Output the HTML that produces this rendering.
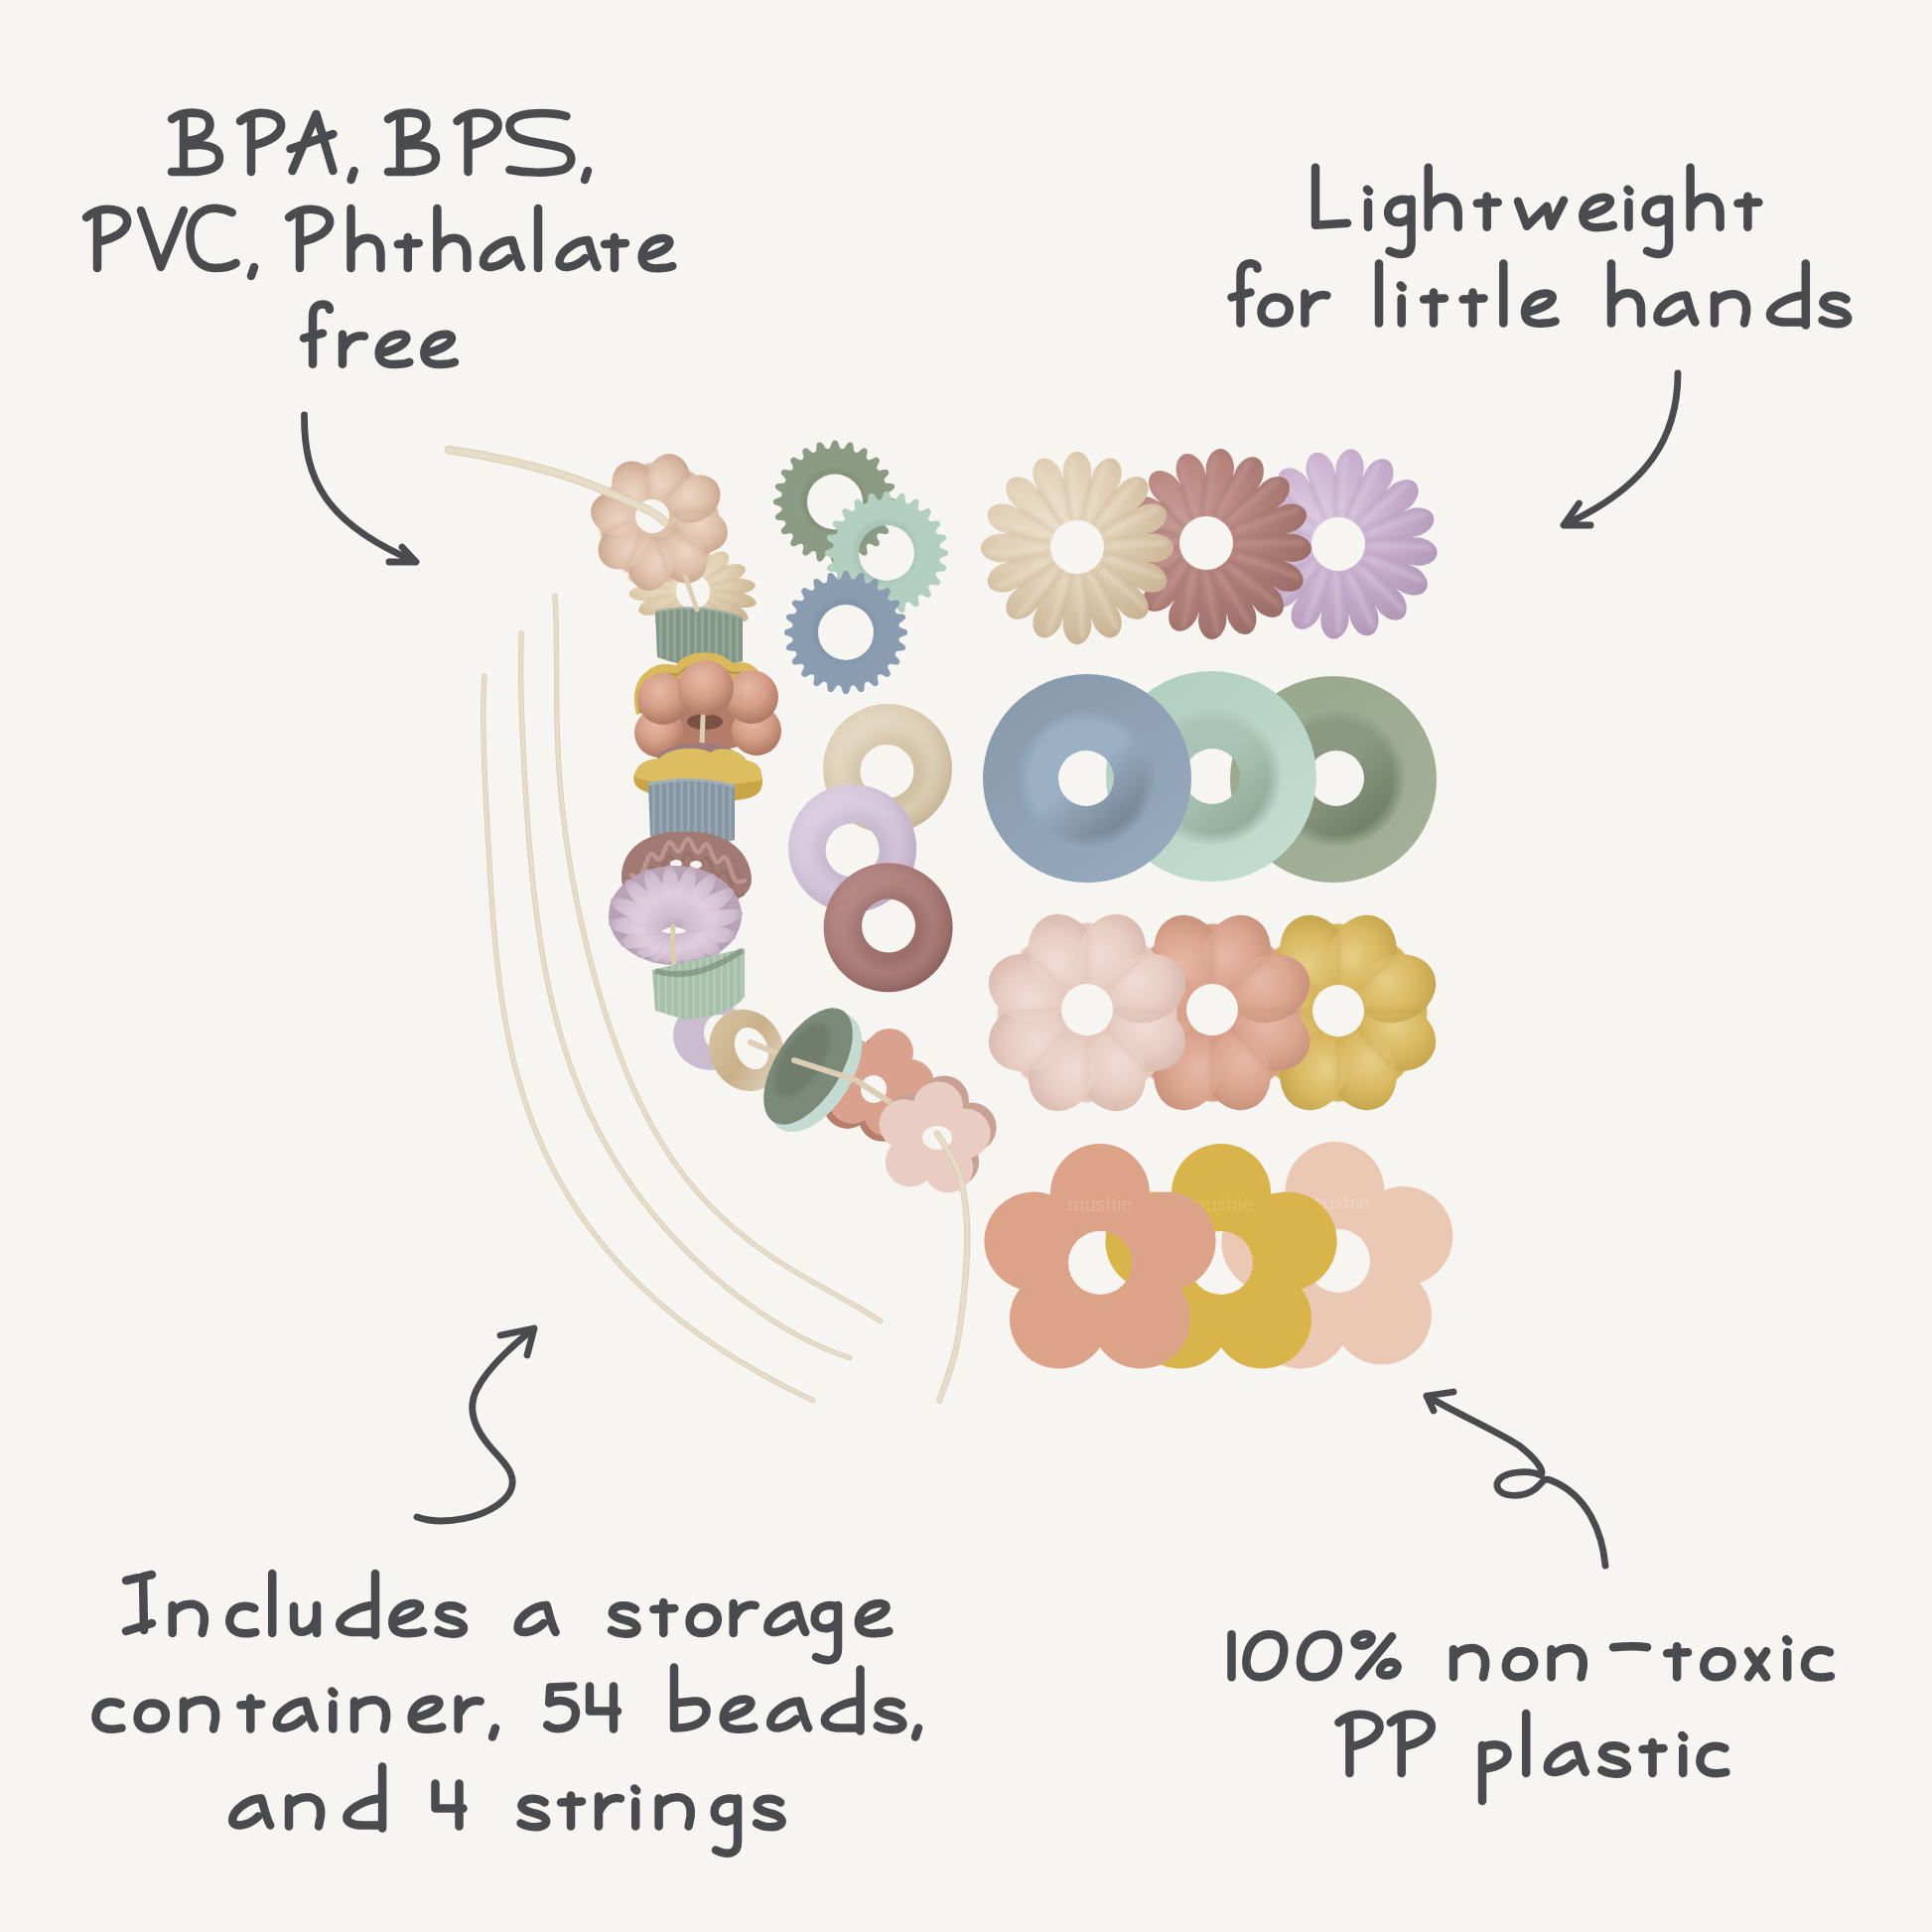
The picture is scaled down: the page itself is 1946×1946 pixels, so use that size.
<!DOCTYPE html>
<html><head><meta charset="utf-8"><title>Beads</title>
<style>html,body{margin:0;padding:0;background:#f6f5f1;width:1946px;height:1946px;overflow:hidden;font-family:"Liberation Sans",sans-serif}svg{display:block}</style>
</head><body>
<svg width="1946" height="1946" viewBox="0 0 1946 1946">
<defs><filter id="blur2" x="-20%" y="-20%" width="140%" height="140%"><feGaussianBlur stdDeviation="2"/></filter><filter id="blur4" x="-20%" y="-20%" width="140%" height="140%"><feGaussianBlur stdDeviation="4"/></filter><mask id="m1" maskUnits="userSpaceOnUse" x="0" y="0" width="1946" height="1946"><rect width="1946" height="1946" fill="white"/><ellipse cx="1348" cy="548" rx="27" ry="27" transform="rotate(0 1348 548)" fill="black"/></mask><radialGradient id="g1" gradientUnits="userSpaceOnUse" cx="1328.8" cy="524" r="124.8"><stop offset="0" stop-color="#dccbe2"/><stop offset="0.5" stop-color="#cbb3d1"/><stop offset="1" stop-color="#b299b8"/></radialGradient><mask id="m2" maskUnits="userSpaceOnUse" x="0" y="0" width="1946" height="1946"><rect width="1946" height="1946" fill="white"/><ellipse cx="1215" cy="547" rx="27" ry="27" transform="rotate(0 1215 547)" fill="black"/></mask><radialGradient id="g2" gradientUnits="userSpaceOnUse" cx="1195.8" cy="523" r="124.8"><stop offset="0" stop-color="#c89c97"/><stop offset="0.5" stop-color="#b8847e"/><stop offset="1" stop-color="#9c6f69"/></radialGradient><mask id="m3" maskUnits="userSpaceOnUse" x="0" y="0" width="1946" height="1946"><rect width="1946" height="1946" fill="white"/><ellipse cx="1085" cy="551" rx="27" ry="27" transform="rotate(0 1085 551)" fill="black"/></mask><radialGradient id="g3" gradientUnits="userSpaceOnUse" cx="1065.6" cy="526.8" r="126.1"><stop offset="0" stop-color="#ece0cc"/><stop offset="0.5" stop-color="#e0cfb5"/><stop offset="1" stop-color="#c9b393"/></radialGradient><mask id="m4" maskUnits="userSpaceOnUse" x="0" y="0" width="1946" height="1946"><rect width="1946" height="1946" fill="white"/><ellipse cx="1346" cy="784" rx="28" ry="28" transform="rotate(0 1346 784)" fill="black"/></mask><linearGradient id="g4" x1="0.2" y1="0.1" x2="0.8" y2="0.9"><stop offset="0" stop-color="#9aa88e"/><stop offset="1" stop-color="#a3b097"/></linearGradient><linearGradient id="g5" x1="0.2" y1="0.15" x2="0.8" y2="0.85"><stop offset="0" stop-color="#8a9880"/><stop offset="0.45" stop-color="#8a9880"/><stop offset="1" stop-color="#6f7d66"/></linearGradient><radialGradient id="soft1005" gradientUnits="userSpaceOnUse" cx="1346" cy="784" r="70"><stop offset="0" stop-color="white"/><stop offset="0.8" stop-color="white"/><stop offset="1" stop-color="black"/></radialGradient><mask id="softm1005" maskUnits="userSpaceOnUse" x="0" y="0" width="1946" height="1946"><circle cx="1346" cy="784" r="70" fill="url(#soft1005)"/></mask><mask id="m5" maskUnits="userSpaceOnUse" x="0" y="0" width="1946" height="1946"><rect width="1946" height="1946" fill="white"/><ellipse cx="1221" cy="782" rx="28" ry="28" transform="rotate(0 1221 782)" fill="black"/></mask><linearGradient id="g7" x1="0.2" y1="0.1" x2="0.8" y2="0.9"><stop offset="0" stop-color="#b3cfc2"/><stop offset="1" stop-color="#c2dcd0"/></linearGradient><linearGradient id="g8" x1="0.2" y1="0.15" x2="0.8" y2="0.85"><stop offset="0" stop-color="#a9c4b6"/><stop offset="0.45" stop-color="#a9c4b6"/><stop offset="1" stop-color="#91a998"/></linearGradient><radialGradient id="soft1008" gradientUnits="userSpaceOnUse" cx="1221" cy="782" r="70"><stop offset="0" stop-color="white"/><stop offset="0.8" stop-color="white"/><stop offset="1" stop-color="black"/></radialGradient><mask id="softm1008" maskUnits="userSpaceOnUse" x="0" y="0" width="1946" height="1946"><circle cx="1221" cy="782" r="70" fill="url(#soft1008)"/></mask><mask id="m6" maskUnits="userSpaceOnUse" x="0" y="0" width="1946" height="1946"><rect width="1946" height="1946" fill="white"/><ellipse cx="1094" cy="784" rx="28" ry="28" transform="rotate(0 1094 784)" fill="black"/></mask><linearGradient id="g10" x1="0.2" y1="0.1" x2="0.8" y2="0.9"><stop offset="0" stop-color="#8b9bae"/><stop offset="1" stop-color="#95a8bc"/></linearGradient><linearGradient id="g11" x1="0.2" y1="0.15" x2="0.8" y2="0.85"><stop offset="0" stop-color="#9bb0c4"/><stop offset="0.45" stop-color="#9bb0c4"/><stop offset="1" stop-color="#738292"/></linearGradient><radialGradient id="soft1011" gradientUnits="userSpaceOnUse" cx="1094" cy="784" r="70"><stop offset="0" stop-color="white"/><stop offset="0.8" stop-color="white"/><stop offset="1" stop-color="black"/></radialGradient><mask id="softm1011" maskUnits="userSpaceOnUse" x="0" y="0" width="1946" height="1946"><circle cx="1094" cy="784" r="70" fill="url(#soft1011)"/></mask><mask id="m7" maskUnits="userSpaceOnUse" x="0" y="0" width="1946" height="1946"><rect width="1946" height="1946" fill="white"/><ellipse cx="1348" cy="1018" rx="26" ry="26" transform="rotate(0 1348 1018)" fill="black"/></mask><radialGradient id="g13" gradientUnits="userSpaceOnUse" cx="1400.5" cy="1034.1" r="52.7"><stop offset="0" stop-color="#e6cf86"/><stop offset="0.55" stop-color="#d9b962"/><stop offset="1" stop-color="#c4a24d"/></radialGradient><radialGradient id="g14" gradientUnits="userSpaceOnUse" cx="1366.2" cy="1068.5" r="52.7"><stop offset="0" stop-color="#e6cf86"/><stop offset="0.55" stop-color="#d9b962"/><stop offset="1" stop-color="#c4a24d"/></radialGradient><radialGradient id="g15" gradientUnits="userSpaceOnUse" cx="1317.6" cy="1068.5" r="52.7"><stop offset="0" stop-color="#e6cf86"/><stop offset="0.55" stop-color="#d9b962"/><stop offset="1" stop-color="#c4a24d"/></radialGradient><radialGradient id="g16" gradientUnits="userSpaceOnUse" cx="1283.3" cy="1034.1" r="52.7"><stop offset="0" stop-color="#e6cf86"/><stop offset="0.55" stop-color="#d9b962"/><stop offset="1" stop-color="#c4a24d"/></radialGradient><radialGradient id="g17" gradientUnits="userSpaceOnUse" cx="1283.3" cy="985.6" r="52.7"><stop offset="0" stop-color="#e6cf86"/><stop offset="0.55" stop-color="#d9b962"/><stop offset="1" stop-color="#c4a24d"/></radialGradient><radialGradient id="g18" gradientUnits="userSpaceOnUse" cx="1317.6" cy="951.2" r="52.7"><stop offset="0" stop-color="#e6cf86"/><stop offset="0.55" stop-color="#d9b962"/><stop offset="1" stop-color="#c4a24d"/></radialGradient><radialGradient id="g19" gradientUnits="userSpaceOnUse" cx="1366.2" cy="951.2" r="52.7"><stop offset="0" stop-color="#e6cf86"/><stop offset="0.55" stop-color="#d9b962"/><stop offset="1" stop-color="#c4a24d"/></radialGradient><radialGradient id="g20" gradientUnits="userSpaceOnUse" cx="1400.5" cy="985.6" r="52.7"><stop offset="0" stop-color="#e6cf86"/><stop offset="0.55" stop-color="#d9b962"/><stop offset="1" stop-color="#c4a24d"/></radialGradient><mask id="m8" maskUnits="userSpaceOnUse" x="0" y="0" width="1946" height="1946"><rect width="1946" height="1946" fill="white"/><ellipse cx="1221" cy="1017" rx="26" ry="26" transform="rotate(0 1221 1017)" fill="black"/></mask><radialGradient id="g21" gradientUnits="userSpaceOnUse" cx="1273.5" cy="1034.1" r="52.7"><stop offset="0" stop-color="#e6b9a6"/><stop offset="0.55" stop-color="#dca590"/><stop offset="1" stop-color="#c68f78"/></radialGradient><radialGradient id="g22" gradientUnits="userSpaceOnUse" cx="1239.2" cy="1068.5" r="52.7"><stop offset="0" stop-color="#e6b9a6"/><stop offset="0.55" stop-color="#dca590"/><stop offset="1" stop-color="#c68f78"/></radialGradient><radialGradient id="g23" gradientUnits="userSpaceOnUse" cx="1190.6" cy="1068.5" r="52.7"><stop offset="0" stop-color="#e6b9a6"/><stop offset="0.55" stop-color="#dca590"/><stop offset="1" stop-color="#c68f78"/></radialGradient><radialGradient id="g24" gradientUnits="userSpaceOnUse" cx="1156.3" cy="1034.1" r="52.7"><stop offset="0" stop-color="#e6b9a6"/><stop offset="0.55" stop-color="#dca590"/><stop offset="1" stop-color="#c68f78"/></radialGradient><radialGradient id="g25" gradientUnits="userSpaceOnUse" cx="1156.3" cy="985.6" r="52.7"><stop offset="0" stop-color="#e6b9a6"/><stop offset="0.55" stop-color="#dca590"/><stop offset="1" stop-color="#c68f78"/></radialGradient><radialGradient id="g26" gradientUnits="userSpaceOnUse" cx="1190.6" cy="951.2" r="52.7"><stop offset="0" stop-color="#e6b9a6"/><stop offset="0.55" stop-color="#dca590"/><stop offset="1" stop-color="#c68f78"/></radialGradient><radialGradient id="g27" gradientUnits="userSpaceOnUse" cx="1239.2" cy="951.2" r="52.7"><stop offset="0" stop-color="#e6b9a6"/><stop offset="0.55" stop-color="#dca590"/><stop offset="1" stop-color="#c68f78"/></radialGradient><radialGradient id="g28" gradientUnits="userSpaceOnUse" cx="1273.5" cy="985.6" r="52.7"><stop offset="0" stop-color="#e6b9a6"/><stop offset="0.55" stop-color="#dca590"/><stop offset="1" stop-color="#c68f78"/></radialGradient><mask id="m9" maskUnits="userSpaceOnUse" x="0" y="0" width="1946" height="1946"><rect width="1946" height="1946" fill="white"/><ellipse cx="1095" cy="1017" rx="26" ry="26" transform="rotate(0 1095 1017)" fill="black"/></mask><radialGradient id="g29" gradientUnits="userSpaceOnUse" cx="1148" cy="1034.3" r="53.2"><stop offset="0" stop-color="#f0dcd4"/><stop offset="0.55" stop-color="#e8cdc3"/><stop offset="1" stop-color="#d8b8ac"/></radialGradient><radialGradient id="g30" gradientUnits="userSpaceOnUse" cx="1113.4" cy="1068.9" r="53.2"><stop offset="0" stop-color="#f0dcd4"/><stop offset="0.55" stop-color="#e8cdc3"/><stop offset="1" stop-color="#d8b8ac"/></radialGradient><radialGradient id="g31" gradientUnits="userSpaceOnUse" cx="1064.3" cy="1068.9" r="53.2"><stop offset="0" stop-color="#f0dcd4"/><stop offset="0.55" stop-color="#e8cdc3"/><stop offset="1" stop-color="#d8b8ac"/></radialGradient><radialGradient id="g32" gradientUnits="userSpaceOnUse" cx="1029.7" cy="1034.3" r="53.2"><stop offset="0" stop-color="#f0dcd4"/><stop offset="0.55" stop-color="#e8cdc3"/><stop offset="1" stop-color="#d8b8ac"/></radialGradient><radialGradient id="g33" gradientUnits="userSpaceOnUse" cx="1029.7" cy="985.3" r="53.2"><stop offset="0" stop-color="#f0dcd4"/><stop offset="0.55" stop-color="#e8cdc3"/><stop offset="1" stop-color="#d8b8ac"/></radialGradient><radialGradient id="g34" gradientUnits="userSpaceOnUse" cx="1064.3" cy="950.6" r="53.2"><stop offset="0" stop-color="#f0dcd4"/><stop offset="0.55" stop-color="#e8cdc3"/><stop offset="1" stop-color="#d8b8ac"/></radialGradient><radialGradient id="g35" gradientUnits="userSpaceOnUse" cx="1113.4" cy="950.6" r="53.2"><stop offset="0" stop-color="#f0dcd4"/><stop offset="0.55" stop-color="#e8cdc3"/><stop offset="1" stop-color="#d8b8ac"/></radialGradient><radialGradient id="g36" gradientUnits="userSpaceOnUse" cx="1148" cy="985.3" r="53.2"><stop offset="0" stop-color="#f0dcd4"/><stop offset="0.55" stop-color="#e8cdc3"/><stop offset="1" stop-color="#d8b8ac"/></radialGradient><mask id="m10" maskUnits="userSpaceOnUse" x="0" y="0" width="1946" height="1946"><rect width="1946" height="1946" fill="white"/><ellipse cx="1348" cy="1270" rx="32" ry="32" transform="rotate(0 1348 1270)" fill="black"/></mask><mask id="m11" maskUnits="userSpaceOnUse" x="0" y="0" width="1946" height="1946"><rect width="1946" height="1946" fill="white"/><ellipse cx="1230" cy="1272" rx="32" ry="32" transform="rotate(0 1230 1272)" fill="black"/></mask><mask id="m12" maskUnits="userSpaceOnUse" x="0" y="0" width="1946" height="1946"><rect width="1946" height="1946" fill="white"/><ellipse cx="1108" cy="1272" rx="32" ry="32" transform="rotate(0 1108 1272)" fill="black"/></mask><mask id="m13" maskUnits="userSpaceOnUse" x="0" y="0" width="1946" height="1946"><rect width="1946" height="1946" fill="white"/><ellipse cx="841" cy="505.5" rx="28" ry="28" transform="rotate(0 841 505.5)" fill="black"/></mask><mask id="m14" maskUnits="userSpaceOnUse" x="0" y="0" width="1946" height="1946"><rect width="1946" height="1946" fill="white"/><ellipse cx="893" cy="557" rx="28" ry="28" transform="rotate(0 893 557)" fill="black"/></mask><mask id="m15" maskUnits="userSpaceOnUse" x="0" y="0" width="1946" height="1946"><rect width="1946" height="1946" fill="white"/><ellipse cx="852" cy="637" rx="28" ry="28" transform="rotate(0 852 637)" fill="black"/></mask><mask id="m16" maskUnits="userSpaceOnUse" x="0" y="0" width="1946" height="1946"><rect width="1946" height="1946" fill="white"/><ellipse cx="893.4" cy="777" rx="27" ry="27" transform="rotate(0 893.4 777)" fill="black"/></mask><radialGradient id="g37" gradientUnits="userSpaceOnUse" cx="877.8" cy="754.5" r="94.2"><stop offset="0" stop-color="#e9dfcc"/><stop offset="0.55" stop-color="#dccdb3"/><stop offset="1" stop-color="#c5b393"/></radialGradient><radialGradient id="g38" gradientUnits="userSpaceOnUse" cx="893.4" cy="777" r="54"><stop offset="0" stop-color="#c5b393" stop-opacity="0.6"/><stop offset="0.5" stop-color="#c5b393" stop-opacity="0.5"/><stop offset="1" stop-color="#c5b393" stop-opacity="0"/></radialGradient><radialGradient id="g39" gradientUnits="userSpaceOnUse" cx="894" cy="774" r="65"><stop offset="0.5" stop-color="#e9dfcc" stop-opacity="0"/><stop offset="0.7" stop-color="#e9dfcc" stop-opacity="0.35"/><stop offset="1" stop-color="#e9dfcc" stop-opacity="0"/></radialGradient><mask id="m17" maskUnits="userSpaceOnUse" x="0" y="0" width="1946" height="1946"><rect width="1946" height="1946" fill="white"/><ellipse cx="858.6" cy="856.4" rx="27" ry="27" transform="rotate(0 858.6 856.4)" fill="black"/></mask><radialGradient id="g40" gradientUnits="userSpaceOnUse" cx="842.5" cy="835" r="93.5"><stop offset="0" stop-color="#e2d6e6"/><stop offset="0.55" stop-color="#d3c4d8"/><stop offset="1" stop-color="#bba9c2"/></radialGradient><radialGradient id="g41" gradientUnits="userSpaceOnUse" cx="858.6" cy="856.4" r="54"><stop offset="0" stop-color="#bba9c2" stop-opacity="0.6"/><stop offset="0.5" stop-color="#bba9c2" stop-opacity="0.5"/><stop offset="1" stop-color="#bba9c2" stop-opacity="0"/></radialGradient><radialGradient id="g42" gradientUnits="userSpaceOnUse" cx="858.6" cy="854.4" r="64.5"><stop offset="0.5" stop-color="#e2d6e6" stop-opacity="0"/><stop offset="0.7" stop-color="#e2d6e6" stop-opacity="0.35"/><stop offset="1" stop-color="#e2d6e6" stop-opacity="0"/></radialGradient><mask id="m18" maskUnits="userSpaceOnUse" x="0" y="0" width="1946" height="1946"><rect width="1946" height="1946" fill="white"/><ellipse cx="895" cy="932.6" rx="27" ry="27" transform="rotate(0 895 932.6)" fill="black"/></mask><radialGradient id="g43" gradientUnits="userSpaceOnUse" cx="878.4" cy="914.8" r="94.2"><stop offset="0" stop-color="#bf928e"/><stop offset="0.55" stop-color="#a97b78"/><stop offset="1" stop-color="#8b605c"/></radialGradient><radialGradient id="g44" gradientUnits="userSpaceOnUse" cx="895" cy="932.6" r="54"><stop offset="0" stop-color="#8b605c" stop-opacity="0.6"/><stop offset="0.5" stop-color="#8b605c" stop-opacity="0.5"/><stop offset="1" stop-color="#8b605c" stop-opacity="0"/></radialGradient><radialGradient id="g45" gradientUnits="userSpaceOnUse" cx="894.6" cy="934.3" r="65"><stop offset="0.5" stop-color="#bf928e" stop-opacity="0"/><stop offset="0.7" stop-color="#bf928e" stop-opacity="0.35"/><stop offset="1" stop-color="#bf928e" stop-opacity="0"/></radialGradient><radialGradient id="g46" gradientUnits="userSpaceOnUse" cx="680" cy="575" r="80"><stop offset="0" stop-color="#efe2cc"/><stop offset="0.6" stop-color="#e4d2b5"/><stop offset="1" stop-color="#cdb896"/></radialGradient><clipPath id="cp1"><path d="M660,616 L662,662 Q704,678 748,666 L748,622 Q704,606 660,616 Z"/></clipPath><mask id="m19" maskUnits="userSpaceOnUse" x="0" y="0" width="1946" height="1946"><rect width="1946" height="1946" fill="white"/><ellipse cx="657" cy="520" rx="17" ry="17" transform="rotate(0 657 520)" fill="black"/></mask><radialGradient id="g47" gradientUnits="userSpaceOnUse" cx="701.8" cy="527.7" r="35.5"><stop offset="0" stop-color="#ecd5c5"/><stop offset="0.55" stop-color="#dfc1ab"/><stop offset="1" stop-color="#c8a38d"/></radialGradient><radialGradient id="g48" gradientUnits="userSpaceOnUse" cx="683.5" cy="554.8" r="35.5"><stop offset="0" stop-color="#ecd5c5"/><stop offset="0.55" stop-color="#dfc1ab"/><stop offset="1" stop-color="#c8a38d"/></radialGradient><radialGradient id="g49" gradientUnits="userSpaceOnUse" cx="651.4" cy="561" r="35.5"><stop offset="0" stop-color="#ecd5c5"/><stop offset="0.55" stop-color="#dfc1ab"/><stop offset="1" stop-color="#c8a38d"/></radialGradient><radialGradient id="g50" gradientUnits="userSpaceOnUse" cx="624.3" cy="542.8" r="35.5"><stop offset="0" stop-color="#ecd5c5"/><stop offset="0.55" stop-color="#dfc1ab"/><stop offset="1" stop-color="#c8a38d"/></radialGradient><radialGradient id="g51" gradientUnits="userSpaceOnUse" cx="618.1" cy="510.7" r="35.5"><stop offset="0" stop-color="#ecd5c5"/><stop offset="0.55" stop-color="#dfc1ab"/><stop offset="1" stop-color="#c8a38d"/></radialGradient><radialGradient id="g52" gradientUnits="userSpaceOnUse" cx="636.3" cy="483.6" r="35.5"><stop offset="0" stop-color="#ecd5c5"/><stop offset="0.55" stop-color="#dfc1ab"/><stop offset="1" stop-color="#c8a38d"/></radialGradient><radialGradient id="g53" gradientUnits="userSpaceOnUse" cx="668.4" cy="477.3" r="35.5"><stop offset="0" stop-color="#ecd5c5"/><stop offset="0.55" stop-color="#dfc1ab"/><stop offset="1" stop-color="#c8a38d"/></radialGradient><radialGradient id="g54" gradientUnits="userSpaceOnUse" cx="695.5" cy="495.6" r="35.5"><stop offset="0" stop-color="#ecd5c5"/><stop offset="0.55" stop-color="#dfc1ab"/><stop offset="1" stop-color="#c8a38d"/></radialGradient><radialGradient id="g55" gradientUnits="userSpaceOnUse" cx="660.2" cy="729.2" r="32.5"><stop offset="0" stop-color="#e6b9a3"/><stop offset="0.55" stop-color="#d59e88"/><stop offset="1" stop-color="#b07a66"/></radialGradient><radialGradient id="g56" gradientUnits="userSpaceOnUse" cx="758.2" cy="727.2" r="32.5"><stop offset="0" stop-color="#e6b9a3"/><stop offset="0.55" stop-color="#d59e88"/><stop offset="1" stop-color="#b07a66"/></radialGradient><radialGradient id="g57" gradientUnits="userSpaceOnUse" cx="664.1" cy="694.9" r="33.8"><stop offset="0" stop-color="#e6b9a3"/><stop offset="0.55" stop-color="#d59e88"/><stop offset="1" stop-color="#b07a66"/></radialGradient><radialGradient id="g58" gradientUnits="userSpaceOnUse" cx="753" cy="692.5" r="35.1"><stop offset="0" stop-color="#e6b9a3"/><stop offset="0.55" stop-color="#d59e88"/><stop offset="1" stop-color="#b07a66"/></radialGradient><radialGradient id="g59" gradientUnits="userSpaceOnUse" cx="706.8" cy="683.2" r="36.4"><stop offset="0" stop-color="#e6b9a3"/><stop offset="0.55" stop-color="#d59e88"/><stop offset="1" stop-color="#b07a66"/></radialGradient><clipPath id="cp2"><path d="M653,790 Q697,780 740,792 L740,846 Q700,858 655,842 Z"/></clipPath><radialGradient id="g60" gradientUnits="userSpaceOnUse" cx="712.3" cy="936.3" r="30.4"><stop offset="0" stop-color="#e0d0df"/><stop offset="0.7" stop-color="#cfbccf"/><stop offset="1" stop-color="#bba4b9"/></radialGradient><radialGradient id="g61" gradientUnits="userSpaceOnUse" cx="703.7" cy="944.9" r="24.9"><stop offset="0" stop-color="#e0d0df"/><stop offset="0.7" stop-color="#cfbccf"/><stop offset="1" stop-color="#bba4b9"/></radialGradient><radialGradient id="g62" gradientUnits="userSpaceOnUse" cx="694.8" cy="949.2" r="20.6"><stop offset="0" stop-color="#e0d0df"/><stop offset="0.7" stop-color="#cfbccf"/><stop offset="1" stop-color="#bba4b9"/></radialGradient><radialGradient id="g63" gradientUnits="userSpaceOnUse" cx="687.2" cy="951.1" r="18.1"><stop offset="0" stop-color="#e0d0df"/><stop offset="0.7" stop-color="#cfbccf"/><stop offset="1" stop-color="#bba4b9"/></radialGradient><radialGradient id="g64" gradientUnits="userSpaceOnUse" cx="680.4" cy="951.7" r="17"><stop offset="0" stop-color="#e0d0df"/><stop offset="0.7" stop-color="#cfbccf"/><stop offset="1" stop-color="#bba4b9"/></radialGradient><radialGradient id="g65" gradientUnits="userSpaceOnUse" cx="673.8" cy="951.4" r="17.3"><stop offset="0" stop-color="#e0d0df"/><stop offset="0.7" stop-color="#cfbccf"/><stop offset="1" stop-color="#bba4b9"/></radialGradient><radialGradient id="g66" gradientUnits="userSpaceOnUse" cx="666.8" cy="950" r="19"><stop offset="0" stop-color="#e0d0df"/><stop offset="0.7" stop-color="#cfbccf"/><stop offset="1" stop-color="#bba4b9"/></radialGradient><radialGradient id="g67" gradientUnits="userSpaceOnUse" cx="658.7" cy="946.8" r="22.3"><stop offset="0" stop-color="#e0d0df"/><stop offset="0.7" stop-color="#cfbccf"/><stop offset="1" stop-color="#bba4b9"/></radialGradient><radialGradient id="g68" gradientUnits="userSpaceOnUse" cx="650" cy="940.4" r="27.2"><stop offset="0" stop-color="#e0d0df"/><stop offset="0.7" stop-color="#cfbccf"/><stop offset="1" stop-color="#bba4b9"/></radialGradient><radialGradient id="g69" gradientUnits="userSpaceOnUse" cx="643.8" cy="929.5" r="32.2"><stop offset="0" stop-color="#e0d0df"/><stop offset="0.7" stop-color="#cfbccf"/><stop offset="1" stop-color="#bba4b9"/></radialGradient><radialGradient id="g70" gradientUnits="userSpaceOnUse" cx="645" cy="916.6" r="34.4"><stop offset="0" stop-color="#e0d0df"/><stop offset="0.7" stop-color="#cfbccf"/><stop offset="1" stop-color="#bba4b9"/></radialGradient><radialGradient id="g71" gradientUnits="userSpaceOnUse" cx="653" cy="906.4" r="33.8"><stop offset="0" stop-color="#e0d0df"/><stop offset="0.7" stop-color="#cfbccf"/><stop offset="1" stop-color="#bba4b9"/></radialGradient><radialGradient id="g72" gradientUnits="userSpaceOnUse" cx="664.3" cy="900.3" r="32.6"><stop offset="0" stop-color="#e0d0df"/><stop offset="0.7" stop-color="#cfbccf"/><stop offset="1" stop-color="#bba4b9"/></radialGradient><radialGradient id="g73" gradientUnits="userSpaceOnUse" cx="676.4" cy="897.9" r="32"><stop offset="0" stop-color="#e0d0df"/><stop offset="0.7" stop-color="#cfbccf"/><stop offset="1" stop-color="#bba4b9"/></radialGradient><radialGradient id="g74" gradientUnits="userSpaceOnUse" cx="688.7" cy="898.7" r="32.4"><stop offset="0" stop-color="#e0d0df"/><stop offset="0.7" stop-color="#cfbccf"/><stop offset="1" stop-color="#bba4b9"/></radialGradient><radialGradient id="g75" gradientUnits="userSpaceOnUse" cx="700.7" cy="902.8" r="33.8"><stop offset="0" stop-color="#e0d0df"/><stop offset="0.7" stop-color="#cfbccf"/><stop offset="1" stop-color="#bba4b9"/></radialGradient><radialGradient id="g76" gradientUnits="userSpaceOnUse" cx="711" cy="911.2" r="35.1"><stop offset="0" stop-color="#e0d0df"/><stop offset="0.7" stop-color="#cfbccf"/><stop offset="1" stop-color="#bba4b9"/></radialGradient><radialGradient id="g77" gradientUnits="userSpaceOnUse" cx="715.8" cy="923.6" r="34.5"><stop offset="0" stop-color="#e0d0df"/><stop offset="0.7" stop-color="#cfbccf"/><stop offset="1" stop-color="#bba4b9"/></radialGradient><clipPath id="cp3"><path d="M657,977 L750,955 L750,1004 Q735,1024 690,1027 L660,1018 Z"/></clipPath><linearGradient id="g78" x1="0.2" y1="0" x2="0.8" y2="1"><stop offset="0" stop-color="#d8c4a2"/><stop offset="0.5" stop-color="#c9b08a"/><stop offset="1" stop-color="#e1d4c0"/></linearGradient><path id="gl66" d="M4,-57 C12,-63 22,-64 30,-63 C40,-62 44,-56 42,-48 C40,-40 30,-36 18,-35 M16,-62 L16,-6 M18,-30 C28,-31 38,-32 46,-28 C54,-24 54,-12 46,-8 C36,-3 22,-4 4,-4"/><path id="gl80" d="M5,-55 C12,-61 20,-64 30,-63 C42,-62 47,-56 46,-49 C44,-40 32,-34 19,-31 M16,-61 L16,-4"/><path id="gl65" d="M6,-5 L30,-62 L47,-5 M4,-27 L47,-42"/><path id="gl44" d="M6,-5 L3,4"/><path id="gl83" d="M62,-60 C48,-64 26,-64 14,-60 C2,-56 2,-44 14,-38 C26,-33 46,-32 58,-28 C70,-24 70,-10 58,-6 C44,-2 20,-3 5,-6"/><path id="gl86" d="M4,-62 L24,-5 L47,-62"/><path id="gl67" d="M46,-60 C38,-64 26,-66 18,-62 C6,-56 3,-44 4,-32 C5,-14 14,-5 28,-4 C38,-4 46,-6 50,-9"/><path id="gl76" d="M4,-64 L4,-6 L36,-8"/><path id="gl73" d="M5,-57 L31,-63 M22,-61 L23,-7 M5,-6 L31,-14"/><path id="gl104" d="M4,-64 L4,-4 M5,-24 C10,-32 16,-35 23,-34 C31,-33 34,-26 34,-18 L34,-4"/><path id="gl116" d="M14,-35 L14,-4 M4,-28 L25,-29"/><path id="gl97" d="M33,-32 C20,-32 4,-20 4,-10 C4,-2 20,-4 30,-14 M33,-32 C36,-22 38,-12 42,-5"/><path id="gl108" d="M4,-64 L4,-4"/><path id="gl101" d="M6,-15 C16,-17 30,-22 32,-29 C33,-35 24,-35 16,-32 C6,-27 3,-18 5,-11 C7,-4 16,-3 24,-4 C30,-4 33,-5 35,-6"/><path id="gl102" d="M14,-4 L14,-52 C14,-62 20,-65 26,-64 C30,-63 31,-61 31,-59 M5,-30 L24,-35"/><path id="gl114" d="M4,-34 L4,-4 M5,-20 C10,-30 18,-34 26,-32"/><path id="gl105" d="M4,-29 L4,-4 M3,-42 L5,-40"/><path id="gl103" d="M28,-30 C20,-34 8,-32 5,-22 C3,-12 10,-8 18,-9 C24,-10 28,-14 28,-18 M28,-32 L28,12 C28,24 18,26 6,20"/><path id="gl119" d="M4,-30 L13,-5 L33,-25 L37,-5 L50,-31"/><path id="gl111" d="M18,-30 C28,-30 33,-24 32,-16 C31,-8 24,-4 16,-4 C8,-4 3,-9 4,-17 C5,-25 11,-30 18,-30 Z"/><path id="gl110" d="M4,-32 L4,-4 M4,-24 C10,-32 18,-34 26,-33 C34,-31 37,-24 36,-14 L34,-4"/><path id="gl100" d="M40,-64 L40,-2 M40,-32 C26,-32 10,-24 5,-16 C2,-8 10,-5 20,-5 L40,-5"/><path id="gl115" d="M28,-28 C22,-33 10,-33 6,-28 C2,-22 10,-19 18,-17 C27,-15 31,-11 29,-7 C26,-2 12,-2 4,-7"/><path id="gl99" d="M29,-29 C22,-33 10,-32 6,-24 C2,-16 4,-8 12,-5 C18,-3 26,-4 30,-5"/><path id="gl117" d="M4,-31 L4,-14 C4,-6 10,-4 16,-6 C22,-8 26,-14 27,-20 M27,-32 L27,-4"/><path id="gl98" d="M4,-66 L4,-5 M4,-30 L24,-32 C34,-33 38,-26 36,-18 C32,-8 18,-5 4,-5"/><path id="gl120" d="M4,-30 L22,-4 M22,-30 L4,-4"/><path id="gl112" d="M4,-32 L4,24 M4,-30 C14,-34 26,-34 29,-26 C32,-16 20,-10 5,-8"/><path id="gl49" d="M4,-47 L4,-4"/><path id="gl48" d="M28,-47 C40,-47 44,-38 42,-26 C40,-12 30,-4 18,-4 C8,-4 3,-12 5,-24 C7,-38 16,-47 28,-47 Z"/><path id="gl37" d="M12,-47 C18,-48 22,-45 20,-41 C18,-37 12,-35 8,-36 C3,-37 2,-41 6,-44 C8,-46 10,-47 12,-47 Z M41,-45 L8,-5 M38,-19 C44,-20 48,-16 46,-12 C44,-7 38,-5 33,-6 C28,-7 28,-12 31,-15 C33,-18 36,-19 38,-19 Z"/><path id="gl53" d="M30,-47 L7,-46 L6,-30 C14,-34 24,-33 30,-28 C35,-22 33,-10 24,-6 C16,-3 8,-4 4,-8"/><path id="gl52" d="M4,-47 L4,-22 L32,-22 M28,-47 L28,-4"/><path id="gl45" d="M4,-34 C14,-35 26,-36 38,-34"/></defs>
<rect width="1946" height="1946" fill="#f6f5f1"/>
<path d="M488,681 L487.2,695.9 L486.8,710.6 L486.8,725.3 L487,739.9 L487.3,754.4 L487.8,768.9 L488.4,783.4 L489.1,797.9 L489.8,812.4 L490.6,826.9 L491.3,841.4 L492.2,855.9 L493,870.5 L493.9,885.1 L494.8,899.7 L495.9,914.3 L497,928.9 L498.2,943.6 L499.6,958.2 L501.2,972.9 L502.9,987.5 L504.8,1002.1 L507,1016.6 L509.5,1031.1 L512.3,1045.5 L515.3,1059.8 L518.7,1074.1 L522.5,1088.2 L526.6,1102.2 L531.1,1116.1 L536,1129.8 L541.4,1143.3 L547.1,1156.7 L553.3,1169.8 L559.9,1182.8 L566.9,1195.5 L574.4,1208 L582.3,1220.2 L590.6,1232.2 L599.3,1243.9 L608.4,1255.4 L617.9,1266.5 L627.7,1277.4 L637.9,1287.9 L648.4,1298.2 L659.3,1308.1 L670.4,1317.8 L681.7,1327.1 L693.3,1336.1 L705.2,1344.8 L717.2,1353.2 L729.4,1361.3 L741.8,1369.1 L754.3,1376.6 L766.9,1383.9 L779.7,1390.9 L792.6,1397.6 L805.6,1404.2 L818.8,1410.5" fill="none" stroke="#d3c6ae" stroke-width="5.2" stroke-linecap="round" stroke-linejoin="round"/>
<path d="M488,681 L487.2,695.9 L486.8,710.6 L486.8,725.3 L487,739.9 L487.3,754.4 L487.8,768.9 L488.4,783.4 L489.1,797.9 L489.8,812.4 L490.6,826.9 L491.3,841.4 L492.2,855.9 L493,870.5 L493.9,885.1 L494.8,899.7 L495.9,914.3 L497,928.9 L498.2,943.6 L499.6,958.2 L501.2,972.9 L502.9,987.5 L504.8,1002.1 L507,1016.6 L509.5,1031.1 L512.3,1045.5 L515.3,1059.8 L518.7,1074.1 L522.5,1088.2 L526.6,1102.2 L531.1,1116.1 L536,1129.8 L541.4,1143.3 L547.1,1156.7 L553.3,1169.8 L559.9,1182.8 L566.9,1195.5 L574.4,1208 L582.3,1220.2 L590.6,1232.2 L599.3,1243.9 L608.4,1255.4 L617.9,1266.5 L627.7,1277.4 L637.9,1287.9 L648.4,1298.2 L659.3,1308.1 L670.4,1317.8 L681.7,1327.1 L693.3,1336.1 L705.2,1344.8 L717.2,1353.2 L729.4,1361.3 L741.8,1369.1 L754.3,1376.6 L766.9,1383.9 L779.7,1390.9 L792.6,1397.6 L805.6,1404.2 L818.8,1410.5" fill="none" stroke="#e6dcc9" stroke-width="4" stroke-linecap="round" stroke-linejoin="round"/>
<path d="M525.2,637.5 L524.8,652.7 L524.6,667.5 L524.6,682.2 L524.9,696.7 L525.2,711.2 L525.7,725.5 L526.3,739.8 L527,754.2 L527.7,768.5 L528.5,782.9 L529.4,797.3 L530.3,811.7 L531.3,826.2 L532.4,840.7 L533.6,855.3 L534.9,869.9 L536.3,884.5 L537.9,899.2 L539.6,913.8 L541.5,928.5 L543.5,943.1 L545.8,957.7 L548.3,972.2 L551.1,986.7 L554.1,1001.1 L557.4,1015.3 L561,1029.5 L564.9,1043.6 L569.2,1057.5 L573.7,1071.3 L578.7,1084.9 L584,1098.4 L589.6,1111.7 L595.6,1124.8 L602,1137.7 L608.8,1150.4 L616,1163 L623.5,1175.3 L631.4,1187.4 L639.7,1199.3 L648.4,1210.9 L657.4,1222.3 L666.8,1233.5 L676.5,1244.5 L686.6,1255.1 L697,1265.6 L707.7,1275.7 L718.7,1285.6 L729.9,1295.1 L741.5,1304.4 L753.3,1313.2 L765.4,1321.7 L777.6,1329.8 L790.2,1337.5 L802.9,1344.7 L815.8,1351.4 L828.9,1357.4 L842.2,1362.9 L855.7,1367.6" fill="none" stroke="#d3c6ae" stroke-width="5.2" stroke-linecap="round" stroke-linejoin="round"/>
<path d="M525.2,637.5 L524.8,652.7 L524.6,667.5 L524.6,682.2 L524.9,696.7 L525.2,711.2 L525.7,725.5 L526.3,739.8 L527,754.2 L527.7,768.5 L528.5,782.9 L529.4,797.3 L530.3,811.7 L531.3,826.2 L532.4,840.7 L533.6,855.3 L534.9,869.9 L536.3,884.5 L537.9,899.2 L539.6,913.8 L541.5,928.5 L543.5,943.1 L545.8,957.7 L548.3,972.2 L551.1,986.7 L554.1,1001.1 L557.4,1015.3 L561,1029.5 L564.9,1043.6 L569.2,1057.5 L573.7,1071.3 L578.7,1084.9 L584,1098.4 L589.6,1111.7 L595.6,1124.8 L602,1137.7 L608.8,1150.4 L616,1163 L623.5,1175.3 L631.4,1187.4 L639.7,1199.3 L648.4,1210.9 L657.4,1222.3 L666.8,1233.5 L676.5,1244.5 L686.6,1255.1 L697,1265.6 L707.7,1275.7 L718.7,1285.6 L729.9,1295.1 L741.5,1304.4 L753.3,1313.2 L765.4,1321.7 L777.6,1329.8 L790.2,1337.5 L802.9,1344.7 L815.8,1351.4 L828.9,1357.4 L842.2,1362.9 L855.7,1367.6" fill="none" stroke="#e6dcc9" stroke-width="4" stroke-linecap="round" stroke-linejoin="round"/>
<path d="M558.8,600 L559.7,614.3 L560.2,628.7 L560.4,643.2 L560.5,657.8 L560.6,672.4 L560.6,687 L560.6,701.7 L560.8,716.3 L561.1,730.8 L561.6,745.4 L562.2,759.9 L563,774.3 L564.1,788.7 L565.3,803.1 L566.8,817.4 L568.5,831.7 L570.4,846 L572.5,860.3 L574.8,874.5 L577.3,888.8 L580,903 L582.9,917.2 L585.9,931.4 L589.2,945.6 L592.6,959.8 L596.3,974 L600.1,988.1 L604.1,1002.2 L608.3,1016.2 L612.8,1030.1 L617.5,1044 L622.4,1057.8 L627.6,1071.4 L633,1084.9 L638.8,1098.2 L644.9,1111.3 L651.4,1124.2 L658.2,1136.9 L665.4,1149.3 L673,1161.5 L681.1,1173.3 L689.5,1184.8 L698.5,1195.9 L707.9,1206.7 L717.7,1217.2 L728.1,1227.2 L738.9,1236.9 L750.1,1246.1 L761.8,1255 L773.8,1263.6 L786.1,1271.8 L798.8,1279.6 L811.6,1287.2 L824.6,1294.6 L837.5,1301.8 L850.4,1309 L863,1316.1 L875.1,1323.3 L886.7,1330.7" fill="none" stroke="#d3c6ae" stroke-width="5.2" stroke-linecap="round" stroke-linejoin="round"/>
<path d="M558.8,600 L559.7,614.3 L560.2,628.7 L560.4,643.2 L560.5,657.8 L560.6,672.4 L560.6,687 L560.6,701.7 L560.8,716.3 L561.1,730.8 L561.6,745.4 L562.2,759.9 L563,774.3 L564.1,788.7 L565.3,803.1 L566.8,817.4 L568.5,831.7 L570.4,846 L572.5,860.3 L574.8,874.5 L577.3,888.8 L580,903 L582.9,917.2 L585.9,931.4 L589.2,945.6 L592.6,959.8 L596.3,974 L600.1,988.1 L604.1,1002.2 L608.3,1016.2 L612.8,1030.1 L617.5,1044 L622.4,1057.8 L627.6,1071.4 L633,1084.9 L638.8,1098.2 L644.9,1111.3 L651.4,1124.2 L658.2,1136.9 L665.4,1149.3 L673,1161.5 L681.1,1173.3 L689.5,1184.8 L698.5,1195.9 L707.9,1206.7 L717.7,1217.2 L728.1,1227.2 L738.9,1236.9 L750.1,1246.1 L761.8,1255 L773.8,1263.6 L786.1,1271.8 L798.8,1279.6 L811.6,1287.2 L824.6,1294.6 L837.5,1301.8 L850.4,1309 L863,1316.1 L875.1,1323.3 L886.7,1330.7" fill="none" stroke="#e6dcc9" stroke-width="4" stroke-linecap="round" stroke-linejoin="round"/>
<g mask="url(#m1)">
<path d="M1447.5,557.6 L1447.3,558.8 L1446.9,560 L1446.4,561.2 L1445.7,562.4 L1444.8,563.5 L1443.8,564.6 L1442.6,565.6 L1441.2,566.5 L1439.6,567.4 L1437.8,568.2 L1435.7,568.8 L1433.4,569.4 L1430.5,569.7 L1426.9,569.8 L1418.9,568.4 L1426.3,571.8 L1429.3,573.8 L1431.4,575.7 L1433.1,577.5 L1434.4,579.2 L1435.5,580.9 L1436.3,582.5 L1437,584 L1437.4,585.5 L1437.7,587 L1437.8,588.4 L1437.7,589.8 L1437.5,591 L1437.1,592.3 L1436.6,593.4 L1435.9,594.5 L1435.1,595.5 L1434.2,596.4 L1433.1,597.2 L1431.8,597.9 L1430.5,598.4 L1429,598.9 L1427.3,599.2 L1425.5,599.4 L1423.5,599.5 L1421.4,599.3 L1419,598.9 L1416.2,598.1 L1412.9,596.8 L1406,592.5 L1411.6,598.4 L1413.5,601.4 L1414.8,604 L1415.6,606.3 L1416.2,608.4 L1416.6,610.3 L1416.7,612.1 L1416.7,613.8 L1416.5,615.4 L1416.2,616.8 L1415.8,618.2 L1415.2,619.4 L1414.5,620.5 L1413.7,621.5 L1412.8,622.3 L1411.7,623.1 L1410.6,623.7 L1409.4,624.1 L1408.1,624.4 L1406.7,624.6 L1405.2,624.6 L1403.6,624.5 L1402,624.2 L1400.2,623.7 L1398.4,622.9 L1396.5,621.9 L1394.4,620.6 L1392.2,618.9 L1389.6,616.4 L1384.9,609.8 L1387.8,617.4 L1388.4,620.9 L1388.6,623.8 L1388.5,626.2 L1388.2,628.3 L1387.8,630.3 L1387.3,632 L1386.6,633.5 L1385.8,634.9 L1385,636.2 L1384.1,637.2 L1383.1,638.1 L1382,638.9 L1380.9,639.5 L1379.7,639.9 L1378.5,640.2 L1377.2,640.3 L1375.9,640.3 L1374.6,640.1 L1373.2,639.7 L1371.8,639.2 L1370.4,638.4 L1369,637.5 L1367.6,636.4 L1366.2,635 L1364.8,633.3 L1363.4,631.3 L1362,628.9 L1360.5,625.6 L1358.7,617.7 L1358.5,625.8 L1357.7,629.3 L1356.8,632 L1355.8,634.2 L1354.7,636.1 L1353.6,637.7 L1352.4,639.1 L1351.2,640.3 L1350,641.3 L1348.7,642.1 L1347.5,642.7 L1346.2,643.2 L1344.9,643.4 L1343.7,643.6 L1342.4,643.5 L1341.2,643.3 L1340,642.9 L1338.8,642.4 L1337.6,641.7 L1336.5,640.8 L1335.4,639.8 L1334.4,638.6 L1333.5,637.2 L1332.6,635.6 L1331.8,633.8 L1331.2,631.7 L1330.6,629.4 L1330.3,626.5 L1330.2,622.9 L1331.6,614.9 L1328.2,622.3 L1326.2,625.3 L1324.3,627.4 L1322.5,629.1 L1320.8,630.4 L1319.1,631.5 L1317.5,632.3 L1316,633 L1314.5,633.4 L1313,633.7 L1311.6,633.8 L1310.2,633.7 L1309,633.5 L1307.7,633.1 L1306.6,632.6 L1305.5,631.9 L1304.5,631.1 L1303.6,630.2 L1302.8,629.1 L1302.1,627.8 L1301.6,626.5 L1301.1,625 L1300.8,623.3 L1300.6,621.5 L1300.5,619.5 L1300.7,617.4 L1301.1,615 L1301.9,612.2 L1303.2,608.9 L1307.5,602 L1301.6,607.6 L1298.6,609.5 L1296,610.8 L1293.7,611.6 L1291.6,612.2 L1289.7,612.6 L1287.9,612.7 L1286.2,612.7 L1284.6,612.5 L1283.2,612.2 L1281.8,611.8 L1280.6,611.2 L1279.5,610.5 L1278.5,609.7 L1277.7,608.8 L1276.9,607.7 L1276.3,606.6 L1275.9,605.4 L1275.6,604.1 L1275.4,602.7 L1275.4,601.2 L1275.5,599.6 L1275.8,598 L1276.3,596.2 L1277.1,594.4 L1278.1,592.5 L1279.4,590.4 L1281.1,588.2 L1283.6,585.6 L1290.2,580.9 L1282.6,583.8 L1279.1,584.4 L1276.2,584.6 L1273.8,584.5 L1271.7,584.2 L1269.7,583.8 L1268,583.3 L1266.5,582.6 L1265.1,581.8 L1263.8,581 L1262.8,580.1 L1261.9,579.1 L1261.1,578 L1260.5,576.9 L1260.1,575.7 L1259.8,574.5 L1259.7,573.2 L1259.7,571.9 L1259.9,570.6 L1260.3,569.2 L1260.8,567.8 L1261.6,566.4 L1262.5,565 L1263.6,563.6 L1265,562.2 L1266.7,560.8 L1268.7,559.4 L1271.1,558 L1274.4,556.5 L1282.3,554.7 L1274.2,554.5 L1270.7,553.7 L1268,552.8 L1265.8,551.8 L1263.9,550.7 L1262.3,549.6 L1260.9,548.4 L1259.7,547.2 L1258.7,546 L1257.9,544.7 L1257.3,543.5 L1256.8,542.2 L1256.6,540.9 L1256.4,539.7 L1256.5,538.4 L1256.7,537.2 L1257.1,536 L1257.6,534.8 L1258.3,533.6 L1259.2,532.5 L1260.2,531.4 L1261.4,530.4 L1262.8,529.5 L1264.4,528.6 L1266.2,527.8 L1268.3,527.2 L1270.6,526.6 L1273.5,526.3 L1277.1,526.2 L1285.1,527.6 L1277.7,524.2 L1274.7,522.2 L1272.6,520.3 L1270.9,518.5 L1269.6,516.8 L1268.5,515.1 L1267.7,513.5 L1267,512 L1266.6,510.5 L1266.3,509 L1266.2,507.6 L1266.3,506.2 L1266.5,505 L1266.9,503.7 L1267.4,502.6 L1268.1,501.5 L1268.9,500.5 L1269.8,499.6 L1270.9,498.8 L1272.2,498.1 L1273.5,497.6 L1275,497.1 L1276.7,496.8 L1278.5,496.6 L1280.5,496.5 L1282.6,496.7 L1285,497.1 L1287.8,497.9 L1291.1,499.2 L1298,503.5 L1292.4,497.6 L1290.5,494.6 L1289.2,492 L1288.4,489.7 L1287.8,487.6 L1287.4,485.7 L1287.3,483.9 L1287.3,482.2 L1287.5,480.6 L1287.8,479.2 L1288.2,477.8 L1288.8,476.6 L1289.5,475.5 L1290.3,474.5 L1291.2,473.7 L1292.3,472.9 L1293.4,472.3 L1294.6,471.9 L1295.9,471.6 L1297.3,471.4 L1298.8,471.4 L1300.4,471.5 L1302,471.8 L1303.8,472.3 L1305.6,473.1 L1307.5,474.1 L1309.6,475.4 L1311.8,477.1 L1314.4,479.6 L1319.1,486.2 L1316.2,478.6 L1315.6,475.1 L1315.4,472.2 L1315.5,469.8 L1315.8,467.7 L1316.2,465.7 L1316.7,464 L1317.4,462.5 L1318.2,461.1 L1319,459.8 L1319.9,458.8 L1320.9,457.9 L1322,457.1 L1323.1,456.5 L1324.3,456.1 L1325.5,455.8 L1326.8,455.7 L1328.1,455.7 L1329.4,455.9 L1330.8,456.3 L1332.2,456.8 L1333.6,457.6 L1335,458.5 L1336.4,459.6 L1337.8,461 L1339.2,462.7 L1340.6,464.7 L1342,467.1 L1343.5,470.4 L1345.3,478.3 L1345.5,470.2 L1346.3,466.7 L1347.2,464 L1348.2,461.8 L1349.3,459.9 L1350.4,458.3 L1351.6,456.9 L1352.8,455.7 L1354,454.7 L1355.3,453.9 L1356.5,453.3 L1357.8,452.8 L1359.1,452.6 L1360.3,452.4 L1361.6,452.5 L1362.8,452.7 L1364,453.1 L1365.2,453.6 L1366.4,454.3 L1367.5,455.2 L1368.6,456.2 L1369.6,457.4 L1370.5,458.8 L1371.4,460.4 L1372.2,462.2 L1372.8,464.3 L1373.4,466.6 L1373.7,469.5 L1373.8,473.1 L1372.4,481.1 L1375.8,473.7 L1377.8,470.7 L1379.7,468.6 L1381.5,466.9 L1383.2,465.6 L1384.9,464.5 L1386.5,463.7 L1388,463 L1389.5,462.6 L1391,462.3 L1392.4,462.2 L1393.8,462.3 L1395,462.5 L1396.3,462.9 L1397.4,463.4 L1398.5,464.1 L1399.5,464.9 L1400.4,465.8 L1401.2,466.9 L1401.9,468.2 L1402.4,469.5 L1402.9,471 L1403.2,472.7 L1403.4,474.5 L1403.5,476.5 L1403.3,478.6 L1402.9,481 L1402.1,483.8 L1400.8,487.1 L1396.5,494 L1402.4,488.4 L1405.4,486.5 L1408,485.2 L1410.3,484.4 L1412.4,483.8 L1414.3,483.4 L1416.1,483.3 L1417.8,483.3 L1419.4,483.5 L1420.8,483.8 L1422.2,484.2 L1423.4,484.8 L1424.5,485.5 L1425.5,486.3 L1426.3,487.2 L1427.1,488.3 L1427.7,489.4 L1428.1,490.6 L1428.4,491.9 L1428.6,493.3 L1428.6,494.8 L1428.5,496.4 L1428.2,498 L1427.7,499.8 L1426.9,501.6 L1425.9,503.5 L1424.6,505.6 L1422.9,507.8 L1420.4,510.4 L1413.8,515.1 L1421.4,512.2 L1424.9,511.6 L1427.8,511.4 L1430.2,511.5 L1432.3,511.8 L1434.3,512.2 L1436,512.7 L1437.5,513.4 L1438.9,514.2 L1440.2,515 L1441.2,515.9 L1442.1,516.9 L1442.9,518 L1443.5,519.1 L1443.9,520.3 L1444.2,521.5 L1444.3,522.8 L1444.3,524.1 L1444.1,525.4 L1443.7,526.8 L1443.2,528.2 L1442.4,529.6 L1441.5,531 L1440.4,532.4 L1439,533.8 L1437.3,535.2 L1435.3,536.6 L1432.9,538 L1429.6,539.5 L1421.7,541.3 L1429.8,541.5 L1433.3,542.3 L1436,543.2 L1438.2,544.2 L1440.1,545.3 L1441.7,546.4 L1443.1,547.6 L1444.3,548.8 L1445.3,550 L1446.1,551.3 L1446.7,552.5 L1447.2,553.8 L1447.4,555.1 L1447.6,556.3Z" fill="url(#g1)"/>
<path d="M1375.7,556.5 L1418,568.2 M1370.4,566.4 L1405.3,591.9 M1361.6,573.6 L1384.4,608.9 M1350.8,576.9 L1358.6,616.7 M1339.5,575.7 L1331.8,614 M1329.6,570.4 L1308.1,601.3 M1322.4,561.6 L1291.1,580.4 M1319.1,550.8 L1283.3,554.6 M1320.3,539.5 L1286,527.8 M1325.6,529.6 L1298.7,504.1 M1334.4,522.4 L1319.6,487.1 M1345.2,519.1 L1345.4,479.3 M1356.5,520.3 L1372.2,482 M1366.4,525.6 L1395.9,494.7 M1373.6,534.4 L1412.9,515.6 M1376.9,545.2 L1420.7,541.4" stroke="#b299b8" stroke-width="3.5" stroke-linecap="round" opacity="0.55" fill="none" filter="url(#blur2)"/>
<path d="M1383,549.4 L1439.9,551.5 M1379.8,562.7 L1431.9,584.9 M1371.7,573.7 L1411.7,612.7 M1360.1,580.8 L1382.4,630.6 M1346.6,583 L1348.5,635.9 M1333.3,579.8 L1315.1,627.9 M1322.3,571.7 L1287.3,607.7 M1315.2,560.1 L1269.4,578.4 M1313,546.6 L1264.1,544.5 M1316.2,533.3 L1272.1,511.1 M1324.3,522.3 L1292.3,483.3 M1335.9,515.2 L1321.6,465.4 M1349.4,513 L1355.5,460.1 M1362.7,516.2 L1388.9,468.1 M1373.7,524.3 L1416.7,488.3 M1380.8,535.9 L1434.6,517.6" stroke="#dccbe2" stroke-width="5" stroke-linecap="round" opacity="0.5" fill="none" filter="url(#blur2)"/>
</g>
<g mask="url(#m2)">
<path d="M1320.9,552.8 L1320.7,554 L1320.4,555.3 L1320,556.5 L1319.3,557.7 L1318.5,558.8 L1317.5,560 L1316.4,561 L1315,562 L1313.5,563 L1311.7,563.9 L1309.7,564.6 L1307.3,565.3 L1304.5,565.8 L1300.9,566 L1292.9,565.1 L1300.4,568 L1303.5,569.9 L1305.7,571.7 L1307.5,573.4 L1308.9,575 L1310,576.6 L1310.9,578.2 L1311.7,579.7 L1312.2,581.2 L1312.5,582.7 L1312.7,584.1 L1312.7,585.4 L1312.5,586.7 L1312.2,588 L1311.7,589.1 L1311.1,590.2 L1310.4,591.2 L1309.5,592.2 L1308.4,593 L1307.2,593.8 L1305.9,594.5 L1304.4,595 L1302.8,595.4 L1301,595.7 L1299,595.8 L1296.9,595.8 L1294.4,595.5 L1291.7,594.9 L1288.2,593.7 L1281.2,589.8 L1287,595.4 L1289.1,598.3 L1290.5,600.8 L1291.5,603 L1292.2,605.1 L1292.6,607 L1292.8,608.8 L1292.9,610.5 L1292.8,612.1 L1292.6,613.5 L1292.2,614.9 L1291.7,616.1 L1291,617.3 L1290.3,618.3 L1289.4,619.2 L1288.4,620 L1287.3,620.6 L1286.1,621.1 L1284.8,621.5 L1283.4,621.8 L1282,621.9 L1280.4,621.8 L1278.7,621.6 L1277,621.1 L1275.1,620.5 L1273.1,619.6 L1271,618.4 L1268.6,616.8 L1265.9,614.4 L1260.9,608.1 L1264.2,615.5 L1265,619 L1265.3,621.8 L1265.4,624.3 L1265.2,626.4 L1264.9,628.4 L1264.4,630.1 L1263.8,631.7 L1263.1,633.1 L1262.4,634.4 L1261.5,635.5 L1260.5,636.5 L1259.5,637.3 L1258.4,637.9 L1257.3,638.4 L1256,638.8 L1254.8,638.9 L1253.5,639 L1252.1,638.8 L1250.8,638.5 L1249.4,638.1 L1247.9,637.4 L1246.5,636.5 L1245,635.5 L1243.5,634.2 L1242,632.6 L1240.5,630.7 L1239,628.3 L1237.4,625 L1235.2,617.3 L1235.4,625.3 L1234.8,628.9 L1234,631.6 L1233.1,633.9 L1232.1,635.8 L1231.1,637.5 L1230,639 L1228.8,640.2 L1227.7,641.2 L1226.5,642.1 L1225.2,642.8 L1224,643.3 L1222.7,643.7 L1221.5,643.9 L1220.2,643.9 L1219,643.7 L1217.7,643.4 L1216.5,643 L1215.3,642.3 L1214.2,641.5 L1213,640.5 L1212,639.4 L1211,638 L1210,636.5 L1209.1,634.7 L1208.4,632.7 L1207.7,630.3 L1207.2,627.5 L1207,623.9 L1207.9,615.9 L1205,623.4 L1203.1,626.5 L1201.3,628.7 L1199.6,630.5 L1198,631.9 L1196.4,633 L1194.8,633.9 L1193.3,634.7 L1191.8,635.2 L1190.3,635.5 L1188.9,635.7 L1187.6,635.7 L1186.3,635.5 L1185,635.2 L1183.9,634.7 L1182.8,634.1 L1181.8,633.4 L1180.8,632.5 L1180,631.4 L1179.2,630.2 L1178.5,628.9 L1178,627.4 L1177.6,625.8 L1177.3,624 L1177.2,622 L1177.2,619.9 L1177.5,617.4 L1178.1,614.7 L1179.3,611.2 L1183.2,604.2 L1177.6,610 L1174.7,612.1 L1172.2,613.5 L1170,614.5 L1167.9,615.2 L1166,615.6 L1164.2,615.8 L1162.5,615.9 L1160.9,615.8 L1159.5,615.6 L1158.1,615.2 L1156.9,614.7 L1155.7,614 L1154.7,613.3 L1153.8,612.4 L1153,611.4 L1152.4,610.3 L1151.9,609.1 L1151.5,607.8 L1151.2,606.4 L1151.1,605 L1151.2,603.4 L1151.4,601.7 L1151.9,600 L1152.5,598.1 L1153.4,596.1 L1154.6,594 L1156.2,591.6 L1158.6,588.9 L1164.9,583.9 L1157.5,587.2 L1154,588 L1151.2,588.3 L1148.7,588.4 L1146.6,588.2 L1144.6,587.9 L1142.9,587.4 L1141.3,586.8 L1139.9,586.1 L1138.6,585.4 L1137.5,584.5 L1136.5,583.5 L1135.7,582.5 L1135.1,581.4 L1134.6,580.3 L1134.2,579 L1134.1,577.8 L1134,576.5 L1134.2,575.1 L1134.5,573.8 L1134.9,572.4 L1135.6,570.9 L1136.5,569.5 L1137.5,568 L1138.8,566.5 L1140.4,565 L1142.3,563.5 L1144.7,562 L1148,560.4 L1155.7,558.2 L1147.7,558.4 L1144.1,557.8 L1141.4,557 L1139.1,556.1 L1137.2,555.1 L1135.5,554.1 L1134,553 L1132.8,551.8 L1131.8,550.7 L1130.9,549.5 L1130.2,548.2 L1129.7,547 L1129.3,545.7 L1129.1,544.5 L1129.1,543.2 L1129.3,542 L1129.6,540.7 L1130,539.5 L1130.7,538.3 L1131.5,537.2 L1132.5,536 L1133.6,535 L1135,534 L1136.5,533 L1138.3,532.1 L1140.3,531.4 L1142.7,530.7 L1145.5,530.2 L1149.1,530 L1157.1,530.9 L1149.6,528 L1146.5,526.1 L1144.3,524.3 L1142.5,522.6 L1141.1,521 L1140,519.4 L1139.1,517.8 L1138.3,516.3 L1137.8,514.8 L1137.5,513.3 L1137.3,511.9 L1137.3,510.6 L1137.5,509.3 L1137.8,508 L1138.3,506.9 L1138.9,505.8 L1139.6,504.8 L1140.5,503.8 L1141.6,503 L1142.8,502.2 L1144.1,501.5 L1145.6,501 L1147.2,500.6 L1149,500.3 L1151,500.2 L1153.1,500.2 L1155.6,500.5 L1158.3,501.1 L1161.8,502.3 L1168.8,506.2 L1163,500.6 L1160.9,497.7 L1159.5,495.2 L1158.5,493 L1157.8,490.9 L1157.4,489 L1157.2,487.2 L1157.1,485.5 L1157.2,483.9 L1157.4,482.5 L1157.8,481.1 L1158.3,479.9 L1159,478.7 L1159.7,477.7 L1160.6,476.8 L1161.6,476 L1162.7,475.4 L1163.9,474.9 L1165.2,474.5 L1166.6,474.2 L1168,474.1 L1169.6,474.2 L1171.3,474.4 L1173,474.9 L1174.9,475.5 L1176.9,476.4 L1179,477.6 L1181.4,479.2 L1184.1,481.6 L1189.1,487.9 L1185.8,480.5 L1185,477 L1184.7,474.2 L1184.6,471.7 L1184.8,469.6 L1185.1,467.6 L1185.6,465.9 L1186.2,464.3 L1186.9,462.9 L1187.6,461.6 L1188.5,460.5 L1189.5,459.5 L1190.5,458.7 L1191.6,458.1 L1192.7,457.6 L1194,457.2 L1195.2,457.1 L1196.5,457 L1197.9,457.2 L1199.2,457.5 L1200.6,457.9 L1202.1,458.6 L1203.5,459.5 L1205,460.5 L1206.5,461.8 L1208,463.4 L1209.5,465.3 L1211,467.7 L1212.6,471 L1214.8,478.7 L1214.6,470.7 L1215.2,467.1 L1216,464.4 L1216.9,462.1 L1217.9,460.2 L1218.9,458.5 L1220,457 L1221.2,455.8 L1222.3,454.8 L1223.5,453.9 L1224.8,453.2 L1226,452.7 L1227.3,452.3 L1228.5,452.1 L1229.8,452.1 L1231,452.3 L1232.3,452.6 L1233.5,453 L1234.7,453.7 L1235.8,454.5 L1237,455.5 L1238,456.6 L1239,458 L1240,459.5 L1240.9,461.3 L1241.6,463.3 L1242.3,465.7 L1242.8,468.5 L1243,472.1 L1242.1,480.1 L1245,472.6 L1246.9,469.5 L1248.7,467.3 L1250.4,465.5 L1252,464.1 L1253.6,463 L1255.2,462.1 L1256.7,461.3 L1258.2,460.8 L1259.7,460.5 L1261.1,460.3 L1262.4,460.3 L1263.7,460.5 L1265,460.8 L1266.1,461.3 L1267.2,461.9 L1268.2,462.6 L1269.2,463.5 L1270,464.6 L1270.8,465.8 L1271.5,467.1 L1272,468.6 L1272.4,470.2 L1272.7,472 L1272.8,474 L1272.8,476.1 L1272.5,478.6 L1271.9,481.3 L1270.7,484.8 L1266.8,491.8 L1272.4,486 L1275.3,483.9 L1277.8,482.5 L1280,481.5 L1282.1,480.8 L1284,480.4 L1285.8,480.2 L1287.5,480.1 L1289.1,480.2 L1290.5,480.4 L1291.9,480.8 L1293.1,481.3 L1294.3,482 L1295.3,482.7 L1296.2,483.6 L1297,484.6 L1297.6,485.7 L1298.1,486.9 L1298.5,488.2 L1298.8,489.6 L1298.9,491 L1298.8,492.6 L1298.6,494.3 L1298.1,496 L1297.5,497.9 L1296.6,499.9 L1295.4,502 L1293.8,504.4 L1291.4,507.1 L1285.1,512.1 L1292.5,508.8 L1296,508 L1298.8,507.7 L1301.3,507.6 L1303.4,507.8 L1305.4,508.1 L1307.1,508.6 L1308.7,509.2 L1310.1,509.9 L1311.4,510.6 L1312.5,511.5 L1313.5,512.5 L1314.3,513.5 L1314.9,514.6 L1315.4,515.7 L1315.8,517 L1315.9,518.2 L1316,519.5 L1315.8,520.9 L1315.5,522.2 L1315.1,523.6 L1314.4,525.1 L1313.5,526.5 L1312.5,528 L1311.2,529.5 L1309.6,531 L1307.7,532.5 L1305.3,534 L1302,535.6 L1294.3,537.8 L1302.3,537.6 L1305.9,538.2 L1308.6,539 L1310.9,539.9 L1312.8,540.9 L1314.5,541.9 L1316,543 L1317.2,544.2 L1318.2,545.3 L1319.1,546.5 L1319.8,547.8 L1320.3,549 L1320.7,550.3 L1320.9,551.5Z" fill="url(#g2)"/>
<path d="M1243.1,554.1 L1291.9,564.8 M1238.3,564.3 L1280.4,589.2 M1229.9,571.9 L1260.4,607.2 M1219.2,575.7 L1235.1,616.3 M1207.9,575.1 L1208.2,614.9 M1197.7,570.3 L1183.8,603.4 M1190.1,561.9 L1165.8,583.4 M1186.3,551.2 L1156.7,558.1 M1186.9,539.9 L1158.1,531.2 M1191.7,529.7 L1169.6,506.8 M1200.1,522.1 L1189.6,488.8 M1210.8,518.3 L1214.9,479.7 M1222.1,518.9 L1241.8,481.1 M1232.3,523.7 L1266.2,492.6 M1239.9,532.1 L1284.2,512.6 M1243.7,542.8 L1293.3,537.9" stroke="#9c6f69" stroke-width="3.5" stroke-linecap="round" opacity="0.55" fill="none" filter="url(#blur2)"/>
<path d="M1250,546.7 L1313,547.1 M1247.5,560.1 L1306.6,580.9 M1240,571.5 L1287.8,609.6 M1228.7,579.2 L1259.5,629 M1215.3,582 L1225.9,636 M1201.9,579.5 L1192.1,629.6 M1190.5,572 L1163.4,610.8 M1182.8,560.7 L1144,582.5 M1180,547.3 L1137,548.9 M1182.5,533.9 L1143.4,515.1 M1190,522.5 L1162.2,486.4 M1201.3,514.8 L1190.5,467 M1214.7,512 L1224.1,460 M1228.1,514.5 L1257.9,466.4 M1239.5,522 L1286.6,485.2 M1247.2,533.3 L1306,513.5" stroke="#c89c97" stroke-width="5" stroke-linecap="round" opacity="0.5" fill="none" filter="url(#blur2)"/>
</g>
<g mask="url(#m3)">
<path d="M1182,552 L1181.9,553.3 L1181.7,554.5 L1181.3,555.8 L1180.7,557 L1179.9,558.2 L1179,559.4 L1177.9,560.5 L1176.6,561.6 L1175.1,562.7 L1173.4,563.6 L1171.4,564.5 L1169.1,565.3 L1166.3,566 L1162.7,566.4 L1154.6,565.9 L1162.3,568.4 L1165.5,570.2 L1167.8,571.9 L1169.6,573.5 L1171.1,575.1 L1172.3,576.6 L1173.3,578.2 L1174.1,579.7 L1174.7,581.1 L1175.1,582.6 L1175.3,584 L1175.4,585.3 L1175.3,586.7 L1175,587.9 L1174.6,589.1 L1174.1,590.3 L1173.3,591.3 L1172.5,592.3 L1171.5,593.2 L1170.3,594.1 L1169,594.8 L1167.6,595.4 L1165.9,595.9 L1164.2,596.3 L1162.2,596.6 L1160,596.6 L1157.6,596.5 L1154.8,596 L1151.3,595 L1144,591.4 L1150.1,596.8 L1152.4,599.6 L1153.9,602 L1154.9,604.2 L1155.7,606.3 L1156.2,608.2 L1156.6,610 L1156.7,611.6 L1156.7,613.2 L1156.5,614.7 L1156.2,616.1 L1155.7,617.4 L1155.1,618.6 L1154.4,619.6 L1153.6,620.6 L1152.6,621.4 L1151.6,622.1 L1150.4,622.7 L1149.1,623.2 L1147.7,623.5 L1146.2,623.7 L1144.6,623.7 L1143,623.6 L1141.2,623.2 L1139.3,622.7 L1137.2,621.9 L1135,620.9 L1132.6,619.4 L1129.8,617.1 L1124.4,611 L1128,618.3 L1129,621.8 L1129.5,624.6 L1129.6,627 L1129.6,629.2 L1129.3,631.2 L1128.9,632.9 L1128.4,634.6 L1127.8,636 L1127.1,637.3 L1126.2,638.5 L1125.3,639.5 L1124.3,640.3 L1123.3,641.1 L1122.1,641.6 L1120.9,642 L1119.7,642.3 L1118.3,642.4 L1117,642.3 L1115.6,642.1 L1114.1,641.7 L1112.7,641.1 L1111.2,640.3 L1109.6,639.3 L1108.1,638.1 L1106.5,636.6 L1104.9,634.8 L1103.2,632.5 L1101.4,629.3 L1098.9,621.6 L1099.4,629.7 L1099,633.3 L1098.3,636.1 L1097.5,638.4 L1096.6,640.4 L1095.7,642.1 L1094.6,643.6 L1093.5,644.9 L1092.4,646 L1091.2,646.9 L1090,647.7 L1088.8,648.3 L1087.5,648.7 L1086.3,648.9 L1085,649 L1083.7,648.9 L1082.5,648.7 L1081.2,648.3 L1080,647.7 L1078.8,646.9 L1077.6,646 L1076.5,644.9 L1075.4,643.6 L1074.3,642.1 L1073.4,640.4 L1072.5,638.4 L1071.7,636.1 L1071,633.3 L1070.6,629.7 L1071.1,621.6 L1068.6,629.3 L1066.8,632.5 L1065.1,634.8 L1063.5,636.6 L1061.9,638.1 L1060.4,639.3 L1058.8,640.3 L1057.3,641.1 L1055.9,641.7 L1054.4,642.1 L1053,642.3 L1051.7,642.4 L1050.3,642.3 L1049.1,642 L1047.9,641.6 L1046.7,641.1 L1045.7,640.3 L1044.7,639.5 L1043.8,638.5 L1042.9,637.3 L1042.2,636 L1041.6,634.6 L1041.1,632.9 L1040.7,631.2 L1040.4,629.2 L1040.4,627 L1040.5,624.6 L1041,621.8 L1042,618.3 L1045.6,611 L1040.2,617.1 L1037.4,619.4 L1035,620.9 L1032.8,621.9 L1030.7,622.7 L1028.8,623.2 L1027,623.6 L1025.4,623.7 L1023.8,623.7 L1022.3,623.5 L1020.9,623.2 L1019.6,622.7 L1018.4,622.1 L1017.4,621.4 L1016.4,620.6 L1015.6,619.6 L1014.9,618.6 L1014.3,617.4 L1013.8,616.1 L1013.5,614.7 L1013.3,613.2 L1013.3,611.6 L1013.4,610 L1013.8,608.2 L1014.3,606.3 L1015.1,604.2 L1016.1,602 L1017.6,599.6 L1019.9,596.8 L1026,591.4 L1018.7,595 L1015.2,596 L1012.4,596.5 L1010,596.6 L1007.8,596.6 L1005.8,596.3 L1004.1,595.9 L1002.4,595.4 L1001,594.8 L999.7,594.1 L998.5,593.2 L997.5,592.3 L996.7,591.3 L995.9,590.3 L995.4,589.1 L995,587.9 L994.7,586.7 L994.6,585.3 L994.7,584 L994.9,582.6 L995.3,581.1 L995.9,579.7 L996.7,578.2 L997.7,576.6 L998.9,575.1 L1000.4,573.5 L1002.2,571.9 L1004.5,570.2 L1007.7,568.4 L1015.4,565.9 L1007.3,566.4 L1003.7,566 L1000.9,565.3 L998.6,564.5 L996.6,563.6 L994.9,562.7 L993.4,561.6 L992.1,560.5 L991,559.4 L990.1,558.2 L989.3,557 L988.7,555.8 L988.3,554.5 L988.1,553.3 L988,552 L988.1,550.7 L988.3,549.5 L988.7,548.2 L989.3,547 L990.1,545.8 L991,544.6 L992.1,543.5 L993.4,542.4 L994.9,541.3 L996.6,540.4 L998.6,539.5 L1000.9,538.7 L1003.7,538 L1007.3,537.6 L1015.4,538.1 L1007.7,535.6 L1004.5,533.8 L1002.2,532.1 L1000.4,530.5 L998.9,528.9 L997.7,527.4 L996.7,525.8 L995.9,524.3 L995.3,522.9 L994.9,521.4 L994.7,520 L994.6,518.7 L994.7,517.3 L995,516.1 L995.4,514.9 L995.9,513.7 L996.7,512.7 L997.5,511.7 L998.5,510.8 L999.7,509.9 L1001,509.2 L1002.4,508.6 L1004.1,508.1 L1005.8,507.7 L1007.8,507.4 L1010,507.4 L1012.4,507.5 L1015.2,508 L1018.7,509 L1026,512.6 L1019.9,507.2 L1017.6,504.4 L1016.1,502 L1015.1,499.8 L1014.3,497.7 L1013.8,495.8 L1013.4,494 L1013.3,492.4 L1013.3,490.8 L1013.5,489.3 L1013.8,487.9 L1014.3,486.6 L1014.9,485.4 L1015.6,484.4 L1016.4,483.4 L1017.4,482.6 L1018.4,481.9 L1019.6,481.3 L1020.9,480.8 L1022.3,480.5 L1023.8,480.3 L1025.4,480.3 L1027,480.4 L1028.8,480.8 L1030.7,481.3 L1032.8,482.1 L1035,483.1 L1037.4,484.6 L1040.2,486.9 L1045.6,493 L1042,485.7 L1041,482.2 L1040.5,479.4 L1040.4,477 L1040.4,474.8 L1040.7,472.8 L1041.1,471.1 L1041.6,469.4 L1042.2,468 L1042.9,466.7 L1043.8,465.5 L1044.7,464.5 L1045.7,463.7 L1046.7,462.9 L1047.9,462.4 L1049.1,462 L1050.3,461.7 L1051.7,461.6 L1053,461.7 L1054.4,461.9 L1055.9,462.3 L1057.3,462.9 L1058.8,463.7 L1060.4,464.7 L1061.9,465.9 L1063.5,467.4 L1065.1,469.2 L1066.8,471.5 L1068.6,474.7 L1071.1,482.4 L1070.6,474.3 L1071,470.7 L1071.7,467.9 L1072.5,465.6 L1073.4,463.6 L1074.3,461.9 L1075.4,460.4 L1076.5,459.1 L1077.6,458 L1078.8,457.1 L1080,456.3 L1081.2,455.7 L1082.5,455.3 L1083.7,455.1 L1085,455 L1086.3,455.1 L1087.5,455.3 L1088.8,455.7 L1090,456.3 L1091.2,457.1 L1092.4,458 L1093.5,459.1 L1094.6,460.4 L1095.7,461.9 L1096.6,463.6 L1097.5,465.6 L1098.3,467.9 L1099,470.7 L1099.4,474.3 L1098.9,482.4 L1101.4,474.7 L1103.2,471.5 L1104.9,469.2 L1106.5,467.4 L1108.1,465.9 L1109.6,464.7 L1111.2,463.7 L1112.7,462.9 L1114.1,462.3 L1115.6,461.9 L1117,461.7 L1118.3,461.6 L1119.7,461.7 L1120.9,462 L1122.1,462.4 L1123.3,462.9 L1124.3,463.7 L1125.3,464.5 L1126.2,465.5 L1127.1,466.7 L1127.8,468 L1128.4,469.4 L1128.9,471.1 L1129.3,472.8 L1129.6,474.8 L1129.6,477 L1129.5,479.4 L1129,482.2 L1128,485.7 L1124.4,493 L1129.8,486.9 L1132.6,484.6 L1135,483.1 L1137.2,482.1 L1139.3,481.3 L1141.2,480.8 L1143,480.4 L1144.6,480.3 L1146.2,480.3 L1147.7,480.5 L1149.1,480.8 L1150.4,481.3 L1151.6,481.9 L1152.6,482.6 L1153.6,483.4 L1154.4,484.4 L1155.1,485.4 L1155.7,486.6 L1156.2,487.9 L1156.5,489.3 L1156.7,490.8 L1156.7,492.4 L1156.6,494 L1156.2,495.8 L1155.7,497.7 L1154.9,499.8 L1153.9,502 L1152.4,504.4 L1150.1,507.2 L1144,512.6 L1151.3,509 L1154.8,508 L1157.6,507.5 L1160,507.4 L1162.2,507.4 L1164.2,507.7 L1165.9,508.1 L1167.6,508.6 L1169,509.2 L1170.3,509.9 L1171.5,510.8 L1172.5,511.7 L1173.3,512.7 L1174.1,513.7 L1174.6,514.9 L1175,516.1 L1175.3,517.3 L1175.4,518.7 L1175.3,520 L1175.1,521.4 L1174.7,522.9 L1174.1,524.3 L1173.3,525.8 L1172.3,527.4 L1171.1,528.9 L1169.6,530.5 L1167.8,532.1 L1165.5,533.8 L1162.3,535.6 L1154.6,538.1 L1162.7,537.6 L1166.3,538 L1169.1,538.7 L1171.4,539.5 L1173.4,540.4 L1175.1,541.3 L1176.6,542.4 L1177.9,543.5 L1179,544.6 L1179.9,545.8 L1180.7,547 L1181.3,548.2 L1181.7,549.5 L1181.9,550.7Z" fill="url(#g3)"/>
<path d="M1113.4,556.7 L1153.7,565.7 M1109.1,567.1 L1143.2,590.9 M1101.1,575.1 L1123.9,610.2 M1090.7,579.4 L1098.7,620.7 M1079.3,579.4 L1071.3,620.7 M1068.9,575.1 L1046.1,610.2 M1060.9,567.1 L1026.8,590.9 M1056.6,556.7 L1016.3,565.7 M1056.6,545.3 L1016.3,538.3 M1060.9,534.9 L1026.8,513.1 M1068.9,526.9 L1046.1,493.8 M1079.3,522.6 L1071.3,483.3 M1090.7,522.6 L1098.7,483.3 M1101.1,526.9 L1123.9,493.8 M1109.1,534.9 L1143.2,513.1 M1113.4,545.3 L1153.7,538.3" stroke="#c9b393" stroke-width="3.5" stroke-linecap="round" opacity="0.55" fill="none" filter="url(#blur2)"/>
<path d="M1119.9,548.9 L1173.8,546.7 M1118.1,562.4 L1169.1,581.1 M1111.2,574.2 L1151.6,611 M1100.3,582.5 L1123.9,632 M1087.1,585.9 L1090.3,640.8 M1073.6,584.1 L1055.9,636.1 M1061.8,577.2 L1026,618.6 M1053.5,566.3 L1005,590.9 M1050.1,553.1 L996.2,557.3 M1051.9,539.6 L1000.9,522.9 M1058.8,527.8 L1018.4,493 M1069.7,519.5 L1046.1,472 M1082.9,516.1 L1079.7,463.2 M1096.4,517.9 L1114.1,467.9 M1108.2,524.8 L1144,485.4 M1116.5,535.7 L1165,513.1" stroke="#ece0cc" stroke-width="5" stroke-linecap="round" opacity="0.5" fill="none" filter="url(#blur2)"/>
</g>
<g mask="url(#m4)">
<circle cx="1343" cy="785" r="104" fill="url(#g4)"/>
<circle cx="1346" cy="784" r="70" fill="url(#g5)" mask="url(#softm1005)"/>
</g>
<g mask="url(#m5)">
<circle cx="1220" cy="782" r="106" fill="url(#g7)"/>
<circle cx="1221" cy="782" r="70" fill="url(#g8)" mask="url(#softm1008)"/>
</g>
<g mask="url(#m6)">
<circle cx="1095" cy="784" r="105" fill="url(#g10)"/>
<circle cx="1094" cy="784" r="70" fill="url(#g11)" mask="url(#softm1011)"/>
</g>
<g mask="url(#m7)">
<circle cx="1348" cy="1020" r="89.4" fill="#d9b962"/>
<ellipse cx="1406.6" cy="1044.3" rx="40.6" ry="33.3" transform="rotate(22.5 1406.6 1044.3)" fill="url(#g13)"/>
<ellipse cx="1372.3" cy="1078.6" rx="40.6" ry="33.3" transform="rotate(67.5 1372.3 1078.6)" fill="url(#g14)"/>
<ellipse cx="1323.7" cy="1078.6" rx="40.6" ry="33.3" transform="rotate(112.5 1323.7 1078.6)" fill="url(#g15)"/>
<ellipse cx="1289.4" cy="1044.3" rx="40.6" ry="33.3" transform="rotate(157.5 1289.4 1044.3)" fill="url(#g16)"/>
<ellipse cx="1289.4" cy="995.7" rx="40.6" ry="33.3" transform="rotate(202.5 1289.4 995.7)" fill="url(#g17)"/>
<ellipse cx="1323.7" cy="961.4" rx="40.6" ry="33.3" transform="rotate(247.5 1323.7 961.4)" fill="url(#g18)"/>
<ellipse cx="1372.3" cy="961.4" rx="40.6" ry="33.3" transform="rotate(292.5 1372.3 961.4)" fill="url(#g19)"/>
<ellipse cx="1406.6" cy="995.7" rx="40.6" ry="33.3" transform="rotate(337.5 1406.6 995.7)" fill="url(#g20)"/>
<path d="M1368.5,1038.5 L1411.2,1083.2 M1348,1047 L1348,1109.4 M1327.5,1038.5 L1284.8,1083.2 M1319,1018 L1258.6,1020 M1327.5,997.5 L1284.8,956.8 M1348,989 L1348,930.6 M1368.5,997.5 L1411.2,956.8 M1377,1018 L1437.4,1020" stroke="#c4a24d" stroke-width="3" opacity="0.5" fill="none" filter="url(#blur2)"/>
</g>
<g mask="url(#m8)">
<circle cx="1221" cy="1020" r="89.4" fill="#dca590"/>
<ellipse cx="1279.6" cy="1044.3" rx="40.6" ry="33.3" transform="rotate(22.5 1279.6 1044.3)" fill="url(#g21)"/>
<ellipse cx="1245.3" cy="1078.6" rx="40.6" ry="33.3" transform="rotate(67.5 1245.3 1078.6)" fill="url(#g22)"/>
<ellipse cx="1196.7" cy="1078.6" rx="40.6" ry="33.3" transform="rotate(112.5 1196.7 1078.6)" fill="url(#g23)"/>
<ellipse cx="1162.4" cy="1044.3" rx="40.6" ry="33.3" transform="rotate(157.5 1162.4 1044.3)" fill="url(#g24)"/>
<ellipse cx="1162.4" cy="995.7" rx="40.6" ry="33.3" transform="rotate(202.5 1162.4 995.7)" fill="url(#g25)"/>
<ellipse cx="1196.7" cy="961.4" rx="40.6" ry="33.3" transform="rotate(247.5 1196.7 961.4)" fill="url(#g26)"/>
<ellipse cx="1245.3" cy="961.4" rx="40.6" ry="33.3" transform="rotate(292.5 1245.3 961.4)" fill="url(#g27)"/>
<ellipse cx="1279.6" cy="995.7" rx="40.6" ry="33.3" transform="rotate(337.5 1279.6 995.7)" fill="url(#g28)"/>
<path d="M1241.5,1037.5 L1284.2,1083.2 M1221,1046 L1221,1109.4 M1200.5,1037.5 L1157.8,1083.2 M1192,1017 L1131.6,1020 M1200.5,996.5 L1157.8,956.8 M1221,988 L1221,930.6 M1241.5,996.5 L1284.2,956.8 M1250,1017 L1310.4,1020" stroke="#c68f78" stroke-width="3" opacity="0.5" fill="none" filter="url(#blur2)"/>
</g>
<g mask="url(#m9)">
<circle cx="1095" cy="1020" r="90.3" fill="#e8cdc3"/>
<ellipse cx="1154.2" cy="1044.5" rx="41" ry="33.6" transform="rotate(22.5 1154.2 1044.5)" fill="url(#g29)"/>
<ellipse cx="1119.5" cy="1079.2" rx="41" ry="33.6" transform="rotate(67.5 1119.5 1079.2)" fill="url(#g30)"/>
<ellipse cx="1070.5" cy="1079.2" rx="41" ry="33.6" transform="rotate(112.5 1070.5 1079.2)" fill="url(#g31)"/>
<ellipse cx="1035.8" cy="1044.5" rx="41" ry="33.6" transform="rotate(157.5 1035.8 1044.5)" fill="url(#g32)"/>
<ellipse cx="1035.8" cy="995.5" rx="41" ry="33.6" transform="rotate(202.5 1035.8 995.5)" fill="url(#g33)"/>
<ellipse cx="1070.5" cy="960.8" rx="41" ry="33.6" transform="rotate(247.5 1070.5 960.8)" fill="url(#g34)"/>
<ellipse cx="1119.5" cy="960.8" rx="41" ry="33.6" transform="rotate(292.5 1119.5 960.8)" fill="url(#g35)"/>
<ellipse cx="1154.2" cy="995.5" rx="41" ry="33.6" transform="rotate(337.5 1154.2 995.5)" fill="url(#g36)"/>
<path d="M1115.5,1037.5 L1158.9,1083.9 M1095,1046 L1095,1110.3 M1074.5,1037.5 L1031.1,1083.9 M1066,1017 L1004.7,1020 M1074.5,996.5 L1031.1,956.1 M1095,988 L1095,929.7 M1115.5,996.5 L1158.9,956.1 M1124,1017 L1185.3,1020" stroke="#d8b8ac" stroke-width="3" opacity="0.5" fill="none" filter="url(#blur2)"/>
</g>
<g mask="url(#m10)">
<path d="M1281.5,1270 a66.5,66.5 0 1,0 133,0 a66.5,66.5 0 1,0 -133,0Z M1294.5,1200.1 a50,50 0 1,0 100,0 a50,50 0 1,0 -100,0Z M1363.4,1245.1 a50,50 0 1,0 100,0 a50,50 0 1,0 -100,0Z M1341.9,1324.5 a50,50 0 1,0 100,0 a50,50 0 1,0 -100,0Z M1259.7,1328.6 a50,50 0 1,0 100,0 a50,50 0 1,0 -100,0Z M1230.4,1251.7 a50,50 0 1,0 100,0 a50,50 0 1,0 -100,0Z" fill="#ebc8b3"/>
<text x="1348" y="1218" font-family="Liberation Sans, sans-serif" font-size="20" fill="#efd3c1" text-anchor="middle" letter-spacing="0">mushie</text>
</g>
<g mask="url(#m11)">
<path d="M1163.5,1272 a66.5,66.5 0 1,0 133,0 a66.5,66.5 0 1,0 -133,0Z M1180,1202 a50,50 0 1,0 100,0 a50,50 0 1,0 -100,0Z M1246.6,1250.4 a50,50 0 1,0 100,0 a50,50 0 1,0 -100,0Z M1221.1,1328.6 a50,50 0 1,0 100,0 a50,50 0 1,0 -100,0Z M1138.9,1328.6 a50,50 0 1,0 100,0 a50,50 0 1,0 -100,0Z M1113.4,1250.4 a50,50 0 1,0 100,0 a50,50 0 1,0 -100,0Z" fill="#d9b44a"/>
<text x="1230" y="1220" font-family="Liberation Sans, sans-serif" font-size="20" fill="#dfbf5e" text-anchor="middle" letter-spacing="0">mushie</text>
</g>
<g mask="url(#m12)">
<path d="M1041.5,1272 a66.5,66.5 0 1,0 133,0 a66.5,66.5 0 1,0 -133,0Z M1058,1202 a50,50 0 1,0 100,0 a50,50 0 1,0 -100,0Z M1124.6,1250.4 a50,50 0 1,0 100,0 a50,50 0 1,0 -100,0Z M1099.1,1328.6 a50,50 0 1,0 100,0 a50,50 0 1,0 -100,0Z M1016.9,1328.6 a50,50 0 1,0 100,0 a50,50 0 1,0 -100,0Z M991.4,1250.4 a50,50 0 1,0 100,0 a50,50 0 1,0 -100,0Z" fill="#dda389"/>
<text x="1108" y="1220" font-family="Liberation Sans, sans-serif" font-size="20" fill="#e3b299" text-anchor="middle" letter-spacing="0">mushie</text>
</g>
<g mask="url(#m13)">
<path d="M903,505.5 L903,506.3 L902.8,507.1 L902.1,507.9 L900.7,508.6 L898.9,509.3 L897,509.9 L895.6,510.5 L894.9,511.2 L894.6,511.8 L894.5,512.5 L894.5,513.3 L894.5,514 L895.1,514.8 L896.3,515.7 L897.9,516.8 L899.5,517.9 L900.6,519 L901.1,519.9 L901.1,520.8 L900.9,521.5 L900.7,522.3 L900.3,523.1 L899.4,523.6 L897.9,524 L895.9,524.1 L894,524.3 L892.5,524.5 L891.6,524.9 L891.2,525.5 L890.9,526.2 L890.6,526.8 L890.5,527.5 L890.8,528.5 L891.7,529.7 L893,531.2 L894.3,532.6 L895.1,534 L895.3,535 L895.1,535.8 L894.7,536.5 L894.3,537.2 L893.7,537.8 L892.7,538.1 L891.1,538.1 L889.2,537.7 L887.3,537.3 L885.8,537.2 L884.9,537.4 L884.3,537.8 L883.8,538.4 L883.4,538.9 L883.1,539.6 L883.2,540.6 L883.7,542 L884.6,543.7 L885.4,545.5 L885.9,547 L885.8,548 L885.4,548.8 L884.8,549.3 L884.3,549.9 L883.5,550.3 L882.5,550.4 L881,549.9 L879.2,549.1 L877.5,548.2 L876.1,547.7 L875.1,547.6 L874.4,547.9 L873.9,548.3 L873.3,548.8 L872.9,549.4 L872.7,550.3 L872.8,551.8 L873.2,553.7 L873.6,555.6 L873.6,557.2 L873.3,558.2 L872.7,558.8 L872,559.2 L871.3,559.6 L870.5,559.8 L869.5,559.6 L868.1,558.8 L866.7,557.5 L865.2,556.2 L864,555.3 L863,555 L862.3,555.1 L861.7,555.4 L861,555.7 L860.4,556.1 L860,557 L859.8,558.5 L859.6,560.4 L859.5,562.4 L859.1,563.9 L858.6,564.8 L857.8,565.2 L857,565.4 L856.3,565.6 L855.4,565.6 L854.5,565.1 L853.4,564 L852.3,562.4 L851.2,560.8 L850.3,559.6 L849.5,559 L848.8,559 L848,559 L847.3,559.1 L846.7,559.4 L846,560.1 L845.4,561.5 L844.8,563.4 L844.1,565.2 L843.4,566.6 L842.6,567.3 L841.8,567.5 L841,567.5 L840.2,567.5 L839.4,567.3 L838.6,566.6 L837.9,565.2 L837.2,563.4 L836.6,561.5 L836,560.1 L835.3,559.4 L834.7,559.1 L834,559 L833.2,559 L832.5,559 L831.7,559.6 L830.8,560.8 L829.7,562.4 L828.6,564 L827.5,565.1 L826.6,565.6 L825.7,565.6 L825,565.4 L824.2,565.2 L823.4,564.8 L822.9,563.9 L822.5,562.4 L822.4,560.4 L822.2,558.5 L822,557 L821.6,556.1 L821,555.7 L820.3,555.4 L819.7,555.1 L819,555 L818,555.3 L816.8,556.2 L815.3,557.5 L813.9,558.8 L812.5,559.6 L811.5,559.8 L810.7,559.6 L810,559.2 L809.3,558.8 L808.7,558.2 L808.4,557.2 L808.4,555.6 L808.8,553.7 L809.2,551.8 L809.3,550.3 L809.1,549.4 L808.7,548.8 L808.1,548.3 L807.6,547.9 L806.9,547.6 L805.9,547.7 L804.5,548.2 L802.8,549.1 L801,549.9 L799.5,550.4 L798.5,550.3 L797.7,549.9 L797.2,549.3 L796.6,548.8 L796.2,548 L796.1,547 L796.6,545.5 L797.4,543.7 L798.3,542 L798.8,540.6 L798.9,539.6 L798.6,538.9 L798.2,538.4 L797.7,537.8 L797.1,537.4 L796.2,537.2 L794.7,537.3 L792.8,537.7 L790.9,538.1 L789.3,538.1 L788.3,537.8 L787.7,537.2 L787.3,536.5 L786.9,535.8 L786.7,535 L786.9,534 L787.7,532.6 L789,531.2 L790.3,529.7 L791.2,528.5 L791.5,527.5 L791.4,526.8 L791.1,526.2 L790.8,525.5 L790.4,524.9 L789.5,524.5 L788,524.3 L786.1,524.1 L784.1,524 L782.6,523.6 L781.7,523.1 L781.3,522.3 L781.1,521.5 L780.9,520.8 L780.9,519.9 L781.4,519 L782.5,517.9 L784.1,516.8 L785.7,515.7 L786.9,514.8 L787.5,514 L787.5,513.3 L787.5,512.5 L787.4,511.8 L787.1,511.2 L786.4,510.5 L785,509.9 L783.1,509.3 L781.3,508.6 L779.9,507.9 L779.2,507.1 L779,506.3 L779,505.5 L779,504.7 L779.2,503.9 L779.9,503.1 L781.3,502.4 L783.1,501.7 L785,501.1 L786.4,500.5 L787.1,499.8 L787.4,499.2 L787.5,498.5 L787.5,497.7 L787.5,497 L786.9,496.2 L785.7,495.3 L784.1,494.2 L782.5,493.1 L781.4,492 L780.9,491.1 L780.9,490.2 L781.1,489.5 L781.3,488.7 L781.7,487.9 L782.6,487.4 L784.1,487 L786.1,486.9 L788,486.7 L789.5,486.5 L790.4,486.1 L790.8,485.5 L791.1,484.8 L791.4,484.2 L791.5,483.5 L791.2,482.5 L790.3,481.3 L789,479.8 L787.7,478.4 L786.9,477 L786.7,476 L786.9,475.2 L787.3,474.5 L787.7,473.8 L788.3,473.2 L789.3,472.9 L790.9,472.9 L792.8,473.3 L794.7,473.7 L796.2,473.8 L797.1,473.6 L797.7,473.2 L798.2,472.6 L798.6,472.1 L798.9,471.4 L798.8,470.4 L798.3,469 L797.4,467.3 L796.6,465.5 L796.1,464 L796.2,463 L796.6,462.2 L797.2,461.7 L797.7,461.1 L798.5,460.7 L799.5,460.6 L801,461.1 L802.8,461.9 L804.5,462.8 L805.9,463.3 L806.9,463.4 L807.6,463.1 L808.1,462.7 L808.7,462.2 L809.1,461.6 L809.3,460.7 L809.2,459.2 L808.8,457.3 L808.4,455.4 L808.4,453.8 L808.7,452.8 L809.3,452.2 L810,451.8 L810.7,451.4 L811.5,451.2 L812.5,451.4 L813.9,452.2 L815.3,453.5 L816.8,454.8 L818,455.7 L819,456 L819.7,455.9 L820.3,455.6 L821,455.3 L821.6,454.9 L822,454 L822.2,452.5 L822.4,450.6 L822.5,448.6 L822.9,447.1 L823.4,446.2 L824.2,445.8 L825,445.6 L825.7,445.4 L826.6,445.4 L827.5,445.9 L828.6,447 L829.7,448.6 L830.8,450.2 L831.7,451.4 L832.5,452 L833.2,452 L834,452 L834.7,451.9 L835.3,451.6 L836,450.9 L836.6,449.5 L837.2,447.6 L837.9,445.8 L838.6,444.4 L839.4,443.7 L840.2,443.5 L841,443.5 L841.8,443.5 L842.6,443.7 L843.4,444.4 L844.1,445.8 L844.8,447.6 L845.4,449.5 L846,450.9 L846.7,451.6 L847.3,451.9 L848,452 L848.8,452 L849.5,452 L850.3,451.4 L851.2,450.2 L852.3,448.6 L853.4,447 L854.5,445.9 L855.4,445.4 L856.3,445.4 L857,445.6 L857.8,445.8 L858.6,446.2 L859.1,447.1 L859.5,448.6 L859.6,450.6 L859.8,452.5 L860,454 L860.4,454.9 L861,455.3 L861.7,455.6 L862.3,455.9 L863,456 L864,455.7 L865.2,454.8 L866.7,453.5 L868.1,452.2 L869.5,451.4 L870.5,451.2 L871.3,451.4 L872,451.8 L872.7,452.2 L873.3,452.8 L873.6,453.8 L873.6,455.4 L873.2,457.3 L872.8,459.2 L872.7,460.7 L872.9,461.6 L873.3,462.2 L873.9,462.7 L874.4,463.1 L875.1,463.4 L876.1,463.3 L877.5,462.8 L879.2,461.9 L881,461.1 L882.5,460.6 L883.5,460.7 L884.3,461.1 L884.8,461.7 L885.4,462.2 L885.8,463 L885.9,464 L885.4,465.5 L884.6,467.3 L883.7,469 L883.2,470.4 L883.1,471.4 L883.4,472.1 L883.8,472.6 L884.3,473.2 L884.9,473.6 L885.8,473.8 L887.3,473.7 L889.2,473.3 L891.1,472.9 L892.7,472.9 L893.7,473.2 L894.3,473.8 L894.7,474.5 L895.1,475.2 L895.3,476 L895.1,477 L894.3,478.4 L893,479.8 L891.7,481.3 L890.8,482.5 L890.5,483.5 L890.6,484.2 L890.9,484.8 L891.2,485.5 L891.6,486.1 L892.5,486.5 L894,486.7 L895.9,486.9 L897.9,487 L899.4,487.4 L900.3,487.9 L900.7,488.7 L900.9,489.5 L901.1,490.2 L901.1,491.1 L900.6,492 L899.5,493.1 L897.9,494.2 L896.3,495.3 L895.1,496.2 L894.5,497 L894.5,497.7 L894.5,498.5 L894.6,499.2 L894.9,499.8 L895.6,500.5 L897,501.1 L898.9,501.7 L900.7,502.4 L902.1,503.1 L902.8,503.9 L903,504.7Z" fill="#8c9b83"/>
<circle cx="839.5" cy="504" r="29" fill="none" stroke="#6f7c66" stroke-width="4" opacity="0.45" filter="url(#blur2)"/>
</g>
<g mask="url(#m14)">
<path d="M955,557 L955,557.8 L954.8,558.6 L954.1,559.4 L952.7,560.1 L950.9,560.8 L949,561.4 L947.6,562 L946.9,562.7 L946.6,563.3 L946.5,564 L946.5,564.8 L946.5,565.5 L947.1,566.3 L948.3,567.2 L949.9,568.3 L951.5,569.4 L952.6,570.5 L953.1,571.4 L953.1,572.3 L952.9,573 L952.7,573.8 L952.3,574.6 L951.4,575.1 L949.9,575.5 L947.9,575.6 L946,575.8 L944.5,576 L943.6,576.4 L943.2,577 L942.9,577.7 L942.6,578.3 L942.5,579 L942.8,580 L943.7,581.2 L945,582.7 L946.3,584.1 L947.1,585.5 L947.3,586.5 L947.1,587.3 L946.7,588 L946.3,588.7 L945.7,589.3 L944.7,589.6 L943.1,589.6 L941.2,589.2 L939.3,588.8 L937.8,588.7 L936.9,588.9 L936.3,589.3 L935.8,589.9 L935.4,590.4 L935.1,591.1 L935.2,592.1 L935.7,593.5 L936.6,595.2 L937.4,597 L937.9,598.5 L937.8,599.5 L937.4,600.3 L936.8,600.8 L936.3,601.4 L935.5,601.8 L934.5,601.9 L933,601.4 L931.2,600.6 L929.5,599.7 L928.1,599.2 L927.1,599.1 L926.4,599.4 L925.9,599.8 L925.3,600.3 L924.9,600.9 L924.7,601.8 L924.8,603.3 L925.2,605.2 L925.6,607.1 L925.6,608.7 L925.3,609.7 L924.7,610.3 L924,610.7 L923.3,611.1 L922.5,611.3 L921.5,611.1 L920.1,610.3 L918.7,609 L917.2,607.7 L916,606.8 L915,606.5 L914.3,606.6 L913.7,606.9 L913,607.2 L912.4,607.6 L912,608.5 L911.8,610 L911.6,611.9 L911.5,613.9 L911.1,615.4 L910.6,616.3 L909.8,616.7 L909,616.9 L908.3,617.1 L907.4,617.1 L906.5,616.6 L905.4,615.5 L904.3,613.9 L903.2,612.3 L902.3,611.1 L901.5,610.5 L900.8,610.5 L900,610.5 L899.3,610.6 L898.7,610.9 L898,611.6 L897.4,613 L896.8,614.9 L896.1,616.7 L895.4,618.1 L894.6,618.8 L893.8,619 L893,619 L892.2,619 L891.4,618.8 L890.6,618.1 L889.9,616.7 L889.2,614.9 L888.6,613 L888,611.6 L887.3,610.9 L886.7,610.6 L886,610.5 L885.2,610.5 L884.5,610.5 L883.7,611.1 L882.8,612.3 L881.7,613.9 L880.6,615.5 L879.5,616.6 L878.6,617.1 L877.7,617.1 L877,616.9 L876.2,616.7 L875.4,616.3 L874.9,615.4 L874.5,613.9 L874.4,611.9 L874.2,610 L874,608.5 L873.6,607.6 L873,607.2 L872.3,606.9 L871.7,606.6 L871,606.5 L870,606.8 L868.8,607.7 L867.3,609 L865.9,610.3 L864.5,611.1 L863.5,611.3 L862.7,611.1 L862,610.7 L861.3,610.3 L860.7,609.7 L860.4,608.7 L860.4,607.1 L860.8,605.2 L861.2,603.3 L861.3,601.8 L861.1,600.9 L860.7,600.3 L860.1,599.8 L859.6,599.4 L858.9,599.1 L857.9,599.2 L856.5,599.7 L854.8,600.6 L853,601.4 L851.5,601.9 L850.5,601.8 L849.7,601.4 L849.2,600.8 L848.6,600.3 L848.2,599.5 L848.1,598.5 L848.6,597 L849.4,595.2 L850.3,593.5 L850.8,592.1 L850.9,591.1 L850.6,590.4 L850.2,589.9 L849.7,589.3 L849.1,588.9 L848.2,588.7 L846.7,588.8 L844.8,589.2 L842.9,589.6 L841.3,589.6 L840.3,589.3 L839.7,588.7 L839.3,588 L838.9,587.3 L838.7,586.5 L838.9,585.5 L839.7,584.1 L841,582.7 L842.3,581.2 L843.2,580 L843.5,579 L843.4,578.3 L843.1,577.7 L842.8,577 L842.4,576.4 L841.5,576 L840,575.8 L838.1,575.6 L836.1,575.5 L834.6,575.1 L833.7,574.6 L833.3,573.8 L833.1,573 L832.9,572.3 L832.9,571.4 L833.4,570.5 L834.5,569.4 L836.1,568.3 L837.7,567.2 L838.9,566.3 L839.5,565.5 L839.5,564.8 L839.5,564 L839.4,563.3 L839.1,562.7 L838.4,562 L837,561.4 L835.1,560.8 L833.3,560.1 L831.9,559.4 L831.2,558.6 L831,557.8 L831,557 L831,556.2 L831.2,555.4 L831.9,554.6 L833.3,553.9 L835.1,553.2 L837,552.6 L838.4,552 L839.1,551.3 L839.4,550.7 L839.5,550 L839.5,549.2 L839.5,548.5 L838.9,547.7 L837.7,546.8 L836.1,545.7 L834.5,544.6 L833.4,543.5 L832.9,542.6 L832.9,541.7 L833.1,541 L833.3,540.2 L833.7,539.4 L834.6,538.9 L836.1,538.5 L838.1,538.4 L840,538.2 L841.5,538 L842.4,537.6 L842.8,537 L843.1,536.3 L843.4,535.7 L843.5,535 L843.2,534 L842.3,532.8 L841,531.3 L839.7,529.9 L838.9,528.5 L838.7,527.5 L838.9,526.7 L839.3,526 L839.7,525.3 L840.3,524.7 L841.3,524.4 L842.9,524.4 L844.8,524.8 L846.7,525.2 L848.2,525.3 L849.1,525.1 L849.7,524.7 L850.2,524.1 L850.6,523.6 L850.9,522.9 L850.8,521.9 L850.3,520.5 L849.4,518.8 L848.6,517 L848.1,515.5 L848.2,514.5 L848.6,513.7 L849.2,513.2 L849.7,512.6 L850.5,512.2 L851.5,512.1 L853,512.6 L854.8,513.4 L856.5,514.3 L857.9,514.8 L858.9,514.9 L859.6,514.6 L860.1,514.2 L860.7,513.7 L861.1,513.1 L861.3,512.2 L861.2,510.7 L860.8,508.8 L860.4,506.9 L860.4,505.3 L860.7,504.3 L861.3,503.7 L862,503.3 L862.7,502.9 L863.5,502.7 L864.5,502.9 L865.9,503.7 L867.3,505 L868.8,506.3 L870,507.2 L871,507.5 L871.7,507.4 L872.3,507.1 L873,506.8 L873.6,506.4 L874,505.5 L874.2,504 L874.4,502.1 L874.5,500.1 L874.9,498.6 L875.4,497.7 L876.2,497.3 L877,497.1 L877.7,496.9 L878.6,496.9 L879.5,497.4 L880.6,498.5 L881.7,500.1 L882.8,501.7 L883.7,502.9 L884.5,503.5 L885.2,503.5 L886,503.5 L886.7,503.4 L887.3,503.1 L888,502.4 L888.6,501 L889.2,499.1 L889.9,497.3 L890.6,495.9 L891.4,495.2 L892.2,495 L893,495 L893.8,495 L894.6,495.2 L895.4,495.9 L896.1,497.3 L896.8,499.1 L897.4,501 L898,502.4 L898.7,503.1 L899.3,503.4 L900,503.5 L900.8,503.5 L901.5,503.5 L902.3,502.9 L903.2,501.7 L904.3,500.1 L905.4,498.5 L906.5,497.4 L907.4,496.9 L908.3,496.9 L909,497.1 L909.8,497.3 L910.6,497.7 L911.1,498.6 L911.5,500.1 L911.6,502.1 L911.8,504 L912,505.5 L912.4,506.4 L913,506.8 L913.7,507.1 L914.3,507.4 L915,507.5 L916,507.2 L917.2,506.3 L918.7,505 L920.1,503.7 L921.5,502.9 L922.5,502.7 L923.3,502.9 L924,503.3 L924.7,503.7 L925.3,504.3 L925.6,505.3 L925.6,506.9 L925.2,508.8 L924.8,510.7 L924.7,512.2 L924.9,513.1 L925.3,513.7 L925.9,514.2 L926.4,514.6 L927.1,514.9 L928.1,514.8 L929.5,514.3 L931.2,513.4 L933,512.6 L934.5,512.1 L935.5,512.2 L936.3,512.6 L936.8,513.2 L937.4,513.7 L937.8,514.5 L937.9,515.5 L937.4,517 L936.6,518.8 L935.7,520.5 L935.2,521.9 L935.1,522.9 L935.4,523.6 L935.8,524.1 L936.3,524.7 L936.9,525.1 L937.8,525.3 L939.3,525.2 L941.2,524.8 L943.1,524.4 L944.7,524.4 L945.7,524.7 L946.3,525.3 L946.7,526 L947.1,526.7 L947.3,527.5 L947.1,528.5 L946.3,529.9 L945,531.3 L943.7,532.8 L942.8,534 L942.5,535 L942.6,535.7 L942.9,536.3 L943.2,537 L943.6,537.6 L944.5,538 L946,538.2 L947.9,538.4 L949.9,538.5 L951.4,538.9 L952.3,539.4 L952.7,540.2 L952.9,541 L953.1,541.7 L953.1,542.6 L952.6,543.5 L951.5,544.6 L949.9,545.7 L948.3,546.8 L947.1,547.7 L946.5,548.5 L946.5,549.2 L946.5,550 L946.6,550.7 L946.9,551.3 L947.6,552 L949,552.6 L950.9,553.2 L952.7,553.9 L954.1,554.6 L954.8,555.4 L955,556.2Z" fill="#b3cfc1"/>
<circle cx="891.5" cy="555.5" r="29" fill="none" stroke="#95ad9f" stroke-width="4" opacity="0.45" filter="url(#blur2)"/>
</g>
<g mask="url(#m15)">
<path d="M914,637 L914,637.8 L913.8,638.6 L913.1,639.4 L911.7,640.1 L909.9,640.8 L908,641.4 L906.6,642 L905.9,642.7 L905.6,643.3 L905.5,644 L905.5,644.8 L905.5,645.5 L906.1,646.3 L907.3,647.2 L908.9,648.3 L910.5,649.4 L911.6,650.5 L912.1,651.4 L912.1,652.3 L911.9,653 L911.7,653.8 L911.3,654.6 L910.4,655.1 L908.9,655.5 L906.9,655.6 L905,655.8 L903.5,656 L902.6,656.4 L902.2,657 L901.9,657.7 L901.6,658.3 L901.5,659 L901.8,660 L902.7,661.2 L904,662.7 L905.3,664.1 L906.1,665.5 L906.3,666.5 L906.1,667.3 L905.7,668 L905.3,668.7 L904.7,669.3 L903.7,669.6 L902.1,669.6 L900.2,669.2 L898.3,668.8 L896.8,668.7 L895.9,668.9 L895.3,669.3 L894.8,669.9 L894.4,670.4 L894.1,671.1 L894.2,672.1 L894.7,673.5 L895.6,675.2 L896.4,677 L896.9,678.5 L896.8,679.5 L896.4,680.3 L895.8,680.8 L895.3,681.4 L894.5,681.8 L893.5,681.9 L892,681.4 L890.2,680.6 L888.5,679.7 L887.1,679.2 L886.1,679.1 L885.4,679.4 L884.9,679.8 L884.3,680.3 L883.9,680.9 L883.7,681.8 L883.8,683.3 L884.2,685.2 L884.6,687.1 L884.6,688.7 L884.3,689.7 L883.7,690.3 L883,690.7 L882.3,691.1 L881.5,691.3 L880.5,691.1 L879.1,690.3 L877.7,689 L876.2,687.7 L875,686.8 L874,686.5 L873.3,686.6 L872.7,686.9 L872,687.2 L871.4,687.6 L871,688.5 L870.8,690 L870.6,691.9 L870.5,693.9 L870.1,695.4 L869.6,696.3 L868.8,696.7 L868,696.9 L867.3,697.1 L866.4,697.1 L865.5,696.6 L864.4,695.5 L863.3,693.9 L862.2,692.3 L861.3,691.1 L860.5,690.5 L859.8,690.5 L859,690.5 L858.3,690.6 L857.7,690.9 L857,691.6 L856.4,693 L855.8,694.9 L855.1,696.7 L854.4,698.1 L853.6,698.8 L852.8,699 L852,699 L851.2,699 L850.4,698.8 L849.6,698.1 L848.9,696.7 L848.2,694.9 L847.6,693 L847,691.6 L846.3,690.9 L845.7,690.6 L845,690.5 L844.2,690.5 L843.5,690.5 L842.7,691.1 L841.8,692.3 L840.7,693.9 L839.6,695.5 L838.5,696.6 L837.6,697.1 L836.7,697.1 L836,696.9 L835.2,696.7 L834.4,696.3 L833.9,695.4 L833.5,693.9 L833.4,691.9 L833.2,690 L833,688.5 L832.6,687.6 L832,687.2 L831.3,686.9 L830.7,686.6 L830,686.5 L829,686.8 L827.8,687.7 L826.3,689 L824.9,690.3 L823.5,691.1 L822.5,691.3 L821.7,691.1 L821,690.7 L820.3,690.3 L819.7,689.7 L819.4,688.7 L819.4,687.1 L819.8,685.2 L820.2,683.3 L820.3,681.8 L820.1,680.9 L819.7,680.3 L819.1,679.8 L818.6,679.4 L817.9,679.1 L816.9,679.2 L815.5,679.7 L813.8,680.6 L812,681.4 L810.5,681.9 L809.5,681.8 L808.7,681.4 L808.2,680.8 L807.6,680.3 L807.2,679.5 L807.1,678.5 L807.6,677 L808.4,675.2 L809.3,673.5 L809.8,672.1 L809.9,671.1 L809.6,670.4 L809.2,669.9 L808.7,669.3 L808.1,668.9 L807.2,668.7 L805.7,668.8 L803.8,669.2 L801.9,669.6 L800.3,669.6 L799.3,669.3 L798.7,668.7 L798.3,668 L797.9,667.3 L797.7,666.5 L797.9,665.5 L798.7,664.1 L800,662.7 L801.3,661.2 L802.2,660 L802.5,659 L802.4,658.3 L802.1,657.7 L801.8,657 L801.4,656.4 L800.5,656 L799,655.8 L797.1,655.6 L795.1,655.5 L793.6,655.1 L792.7,654.6 L792.3,653.8 L792.1,653 L791.9,652.3 L791.9,651.4 L792.4,650.5 L793.5,649.4 L795.1,648.3 L796.7,647.2 L797.9,646.3 L798.5,645.5 L798.5,644.8 L798.5,644 L798.4,643.3 L798.1,642.7 L797.4,642 L796,641.4 L794.1,640.8 L792.3,640.1 L790.9,639.4 L790.2,638.6 L790,637.8 L790,637 L790,636.2 L790.2,635.4 L790.9,634.6 L792.3,633.9 L794.1,633.2 L796,632.6 L797.4,632 L798.1,631.3 L798.4,630.7 L798.5,630 L798.5,629.2 L798.5,628.5 L797.9,627.7 L796.7,626.8 L795.1,625.7 L793.5,624.6 L792.4,623.5 L791.9,622.6 L791.9,621.7 L792.1,621 L792.3,620.2 L792.7,619.4 L793.6,618.9 L795.1,618.5 L797.1,618.4 L799,618.2 L800.5,618 L801.4,617.6 L801.8,617 L802.1,616.3 L802.4,615.7 L802.5,615 L802.2,614 L801.3,612.8 L800,611.3 L798.7,609.9 L797.9,608.5 L797.7,607.5 L797.9,606.7 L798.3,606 L798.7,605.3 L799.3,604.7 L800.3,604.4 L801.9,604.4 L803.8,604.8 L805.7,605.2 L807.2,605.3 L808.1,605.1 L808.7,604.7 L809.2,604.1 L809.6,603.6 L809.9,602.9 L809.8,601.9 L809.3,600.5 L808.4,598.8 L807.6,597 L807.1,595.5 L807.2,594.5 L807.6,593.7 L808.2,593.2 L808.7,592.6 L809.5,592.2 L810.5,592.1 L812,592.6 L813.8,593.4 L815.5,594.3 L816.9,594.8 L817.9,594.9 L818.6,594.6 L819.1,594.2 L819.7,593.7 L820.1,593.1 L820.3,592.2 L820.2,590.7 L819.8,588.8 L819.4,586.9 L819.4,585.3 L819.7,584.3 L820.3,583.7 L821,583.3 L821.7,582.9 L822.5,582.7 L823.5,582.9 L824.9,583.7 L826.3,585 L827.8,586.3 L829,587.2 L830,587.5 L830.7,587.4 L831.3,587.1 L832,586.8 L832.6,586.4 L833,585.5 L833.2,584 L833.4,582.1 L833.5,580.1 L833.9,578.6 L834.4,577.7 L835.2,577.3 L836,577.1 L836.7,576.9 L837.6,576.9 L838.5,577.4 L839.6,578.5 L840.7,580.1 L841.8,581.7 L842.7,582.9 L843.5,583.5 L844.2,583.5 L845,583.5 L845.7,583.4 L846.3,583.1 L847,582.4 L847.6,581 L848.2,579.1 L848.9,577.3 L849.6,575.9 L850.4,575.2 L851.2,575 L852,575 L852.8,575 L853.6,575.2 L854.4,575.9 L855.1,577.3 L855.8,579.1 L856.4,581 L857,582.4 L857.7,583.1 L858.3,583.4 L859,583.5 L859.8,583.5 L860.5,583.5 L861.3,582.9 L862.2,581.7 L863.3,580.1 L864.4,578.5 L865.5,577.4 L866.4,576.9 L867.3,576.9 L868,577.1 L868.8,577.3 L869.6,577.7 L870.1,578.6 L870.5,580.1 L870.6,582.1 L870.8,584 L871,585.5 L871.4,586.4 L872,586.8 L872.7,587.1 L873.3,587.4 L874,587.5 L875,587.2 L876.2,586.3 L877.7,585 L879.1,583.7 L880.5,582.9 L881.5,582.7 L882.3,582.9 L883,583.3 L883.7,583.7 L884.3,584.3 L884.6,585.3 L884.6,586.9 L884.2,588.8 L883.8,590.7 L883.7,592.2 L883.9,593.1 L884.3,593.7 L884.9,594.2 L885.4,594.6 L886.1,594.9 L887.1,594.8 L888.5,594.3 L890.2,593.4 L892,592.6 L893.5,592.1 L894.5,592.2 L895.3,592.6 L895.8,593.2 L896.4,593.7 L896.8,594.5 L896.9,595.5 L896.4,597 L895.6,598.8 L894.7,600.5 L894.2,601.9 L894.1,602.9 L894.4,603.6 L894.8,604.1 L895.3,604.7 L895.9,605.1 L896.8,605.3 L898.3,605.2 L900.2,604.8 L902.1,604.4 L903.7,604.4 L904.7,604.7 L905.3,605.3 L905.7,606 L906.1,606.7 L906.3,607.5 L906.1,608.5 L905.3,609.9 L904,611.3 L902.7,612.8 L901.8,614 L901.5,615 L901.6,615.7 L901.9,616.3 L902.2,617 L902.6,617.6 L903.5,618 L905,618.2 L906.9,618.4 L908.9,618.5 L910.4,618.9 L911.3,619.4 L911.7,620.2 L911.9,621 L912.1,621.7 L912.1,622.6 L911.6,623.5 L910.5,624.6 L908.9,625.7 L907.3,626.8 L906.1,627.7 L905.5,628.5 L905.5,629.2 L905.5,630 L905.6,630.7 L905.9,631.3 L906.6,632 L908,632.6 L909.9,633.2 L911.7,633.9 L913.1,634.6 L913.8,635.4 L914,636.2Z" fill="#8a9caf"/>
<circle cx="850.5" cy="635.5" r="29" fill="none" stroke="#74849a" stroke-width="4" opacity="0.45" filter="url(#blur2)"/>
</g>
<g mask="url(#m16)">
<circle cx="894" cy="774" r="65" fill="url(#g37)"/>
<circle cx="896.4" cy="779" r="54" fill="url(#g38)"/>
<circle cx="891" cy="771" r="65" fill="url(#g39)"/>
</g>
<g mask="url(#m17)">
<circle cx="858.6" cy="854.4" r="64.5" fill="url(#g40)"/>
<circle cx="861.6" cy="858.4" r="54" fill="url(#g41)"/>
<circle cx="855.6" cy="851.4" r="64.5" fill="url(#g42)"/>
</g>
<g mask="url(#m18)">
<circle cx="894.6" cy="934.3" r="65" fill="url(#g43)"/>
<circle cx="898" cy="934.6" r="54" fill="url(#g44)"/>
<circle cx="891.6" cy="931.3" r="65" fill="url(#g45)"/>
</g>
<g transform="translate(697,594) rotate(12) scale(1,0.72) translate(-697,-594)">
<path d="M763,594 L762.9,595 L762.6,596.1 L762.1,597.1 L761.4,598.1 L760.5,599 L759.5,599.9 L758.2,600.8 L756.8,601.6 L755.2,602.3 L753.5,603 L751.6,603.5 L749.4,604 L749.3,604.8 L751.1,606.1 L752.6,607.4 L754,608.6 L755.2,609.9 L756.1,611.2 L757,612.4 L757.6,613.7 L758.1,614.9 L758.3,616.1 L758.4,617.2 L758.3,618.3 L758,619.3 L757.5,620.2 L756.8,621 L756,621.7 L754.9,622.4 L753.8,622.9 L752.4,623.4 L751,623.7 L749.4,623.9 L747.6,623.9 L745.8,623.9 L743.8,623.7 L741.6,623.3 L741.1,624 L742.3,625.9 L743.3,627.6 L744,629.3 L744.6,631 L745.1,632.5 L745.3,634 L745.5,635.4 L745.4,636.7 L745.2,637.9 L744.8,638.9 L744.3,639.9 L743.7,640.7 L742.9,641.3 L741.9,641.8 L740.9,642.2 L739.7,642.4 L738.4,642.5 L737,642.3 L735.5,642.1 L734,641.6 L732.3,641 L730.6,640.3 L728.9,639.3 L727,638.1 L726.3,638.6 L726.7,640.8 L726.9,642.8 L726.9,644.6 L726.9,646.4 L726.7,648 L726.4,649.4 L725.9,650.8 L725.4,651.9 L724.7,653 L724,653.8 L723.2,654.5 L722.3,655 L721.3,655.3 L720.2,655.4 L719.1,655.3 L717.9,655.1 L716.7,654.6 L715.4,654 L714.2,653.1 L712.9,652.2 L711.6,651 L710.4,649.6 L709.1,648.1 L707.8,646.3 L707,646.4 L706.5,648.6 L706,650.5 L705.3,652.2 L704.6,653.8 L703.8,655.2 L702.9,656.5 L702,657.5 L701.1,658.4 L700.1,659.1 L699.1,659.6 L698,659.9 L697,660 L696,659.9 L694.9,659.6 L693.9,659.1 L692.9,658.4 L692,657.5 L691.1,656.5 L690.2,655.2 L689.4,653.8 L688.7,652.2 L688,650.5 L687.5,648.6 L687,646.4 L686.2,646.3 L684.9,648.1 L683.6,649.6 L682.4,651 L681.1,652.2 L679.8,653.1 L678.6,654 L677.3,654.6 L676.1,655.1 L674.9,655.3 L673.8,655.4 L672.7,655.3 L671.7,655 L670.8,654.5 L670,653.8 L669.3,653 L668.6,651.9 L668.1,650.8 L667.6,649.4 L667.3,648 L667.1,646.4 L667.1,644.6 L667.1,642.8 L667.3,640.8 L667.7,638.6 L667,638.1 L665.1,639.3 L663.4,640.3 L661.7,641 L660,641.6 L658.5,642.1 L657,642.3 L655.6,642.5 L654.3,642.4 L653.1,642.2 L652.1,641.8 L651.1,641.3 L650.3,640.7 L649.7,639.9 L649.2,638.9 L648.8,637.9 L648.6,636.7 L648.5,635.4 L648.7,634 L648.9,632.5 L649.4,631 L650,629.3 L650.7,627.6 L651.7,625.9 L652.9,624 L652.4,623.3 L650.2,623.7 L648.2,623.9 L646.4,623.9 L644.6,623.9 L643,623.7 L641.6,623.4 L640.2,622.9 L639.1,622.4 L638,621.7 L637.2,621 L636.5,620.2 L636,619.3 L635.7,618.3 L635.6,617.2 L635.7,616.1 L635.9,614.9 L636.4,613.7 L637,612.4 L637.9,611.2 L638.8,609.9 L640,608.6 L641.4,607.4 L642.9,606.1 L644.7,604.8 L644.6,604 L642.4,603.5 L640.5,603 L638.8,602.3 L637.2,601.6 L635.8,600.8 L634.5,599.9 L633.5,599 L632.6,598.1 L631.9,597.1 L631.4,596.1 L631.1,595 L631,594 L631.1,593 L631.4,591.9 L631.9,590.9 L632.6,589.9 L633.5,589 L634.5,588.1 L635.8,587.2 L637.2,586.4 L638.8,585.7 L640.5,585 L642.4,584.5 L644.6,584 L644.7,583.2 L642.9,581.9 L641.4,580.6 L640,579.4 L638.8,578.1 L637.9,576.8 L637,575.6 L636.4,574.3 L635.9,573.1 L635.7,571.9 L635.6,570.8 L635.7,569.7 L636,568.7 L636.5,567.8 L637.2,567 L638,566.3 L639.1,565.6 L640.2,565.1 L641.6,564.6 L643,564.3 L644.6,564.1 L646.4,564.1 L648.2,564.1 L650.2,564.3 L652.4,564.7 L652.9,564 L651.7,562.1 L650.7,560.4 L650,558.7 L649.4,557 L648.9,555.5 L648.7,554 L648.5,552.6 L648.6,551.3 L648.8,550.1 L649.2,549.1 L649.7,548.1 L650.3,547.3 L651.1,546.7 L652.1,546.2 L653.1,545.8 L654.3,545.6 L655.6,545.5 L657,545.7 L658.5,545.9 L660,546.4 L661.7,547 L663.4,547.7 L665.1,548.7 L667,549.9 L667.7,549.4 L667.3,547.2 L667.1,545.2 L667.1,543.4 L667.1,541.6 L667.3,540 L667.6,538.6 L668.1,537.2 L668.6,536.1 L669.3,535 L670,534.2 L670.8,533.5 L671.7,533 L672.7,532.7 L673.8,532.6 L674.9,532.7 L676.1,532.9 L677.3,533.4 L678.6,534 L679.8,534.9 L681.1,535.8 L682.4,537 L683.6,538.4 L684.9,539.9 L686.2,541.7 L687,541.6 L687.5,539.4 L688,537.5 L688.7,535.8 L689.4,534.2 L690.2,532.8 L691.1,531.5 L692,530.5 L692.9,529.6 L693.9,528.9 L694.9,528.4 L696,528.1 L697,528 L698,528.1 L699.1,528.4 L700.1,528.9 L701.1,529.6 L702,530.5 L702.9,531.5 L703.8,532.8 L704.6,534.2 L705.3,535.8 L706,537.5 L706.5,539.4 L707,541.6 L707.8,541.7 L709.1,539.9 L710.4,538.4 L711.6,537 L712.9,535.8 L714.2,534.9 L715.4,534 L716.7,533.4 L717.9,532.9 L719.1,532.7 L720.2,532.6 L721.3,532.7 L722.3,533 L723.2,533.5 L724,534.2 L724.7,535 L725.4,536.1 L725.9,537.2 L726.4,538.6 L726.7,540 L726.9,541.6 L726.9,543.4 L726.9,545.2 L726.7,547.2 L726.3,549.4 L727,549.9 L728.9,548.7 L730.6,547.7 L732.3,547 L734,546.4 L735.5,545.9 L737,545.7 L738.4,545.5 L739.7,545.6 L740.9,545.8 L741.9,546.2 L742.9,546.7 L743.7,547.3 L744.3,548.1 L744.8,549.1 L745.2,550.1 L745.4,551.3 L745.5,552.6 L745.3,554 L745.1,555.5 L744.6,557 L744,558.7 L743.3,560.4 L742.3,562.1 L741.1,564 L741.6,564.7 L743.8,564.3 L745.8,564.1 L747.6,564.1 L749.4,564.1 L751,564.3 L752.4,564.6 L753.8,565.1 L754.9,565.6 L756,566.3 L756.8,567 L757.5,567.8 L758,568.7 L758.3,569.7 L758.4,570.8 L758.3,571.9 L758.1,573.1 L757.6,574.3 L757,575.6 L756.1,576.8 L755.2,578.1 L754,579.4 L752.6,580.6 L751.1,581.9 L749.3,583.2 L749.4,584 L751.6,584.5 L753.5,585 L755.2,585.7 L756.8,586.4 L758.2,587.2 L759.5,588.1 L760.5,589 L761.4,589.9 L762.1,590.9 L762.6,591.9 L762.9,593Z" fill="url(#g46)"/>
<path d="M716.6,597.9 L747,603.9 M713.6,605.1 L739.4,622.3 M708.1,610.6 L725.3,636.4 M700.9,613.6 L706.9,644 M693.1,613.6 L687.1,644 M685.9,610.6 L668.7,636.4 M680.4,605.1 L654.6,622.3 M677.4,597.9 L647,603.9 M677.4,590.1 L647,584.1 M680.4,582.9 L654.6,565.7 M685.9,577.4 L668.7,551.6 M693.1,574.4 L687.1,544 M700.9,574.4 L706.9,544 M708.1,577.4 L725.3,551.6 M713.6,582.9 L739.4,565.7 M716.6,590.1 L747,584.1" stroke="#c4ad8a" stroke-width="3" opacity="0.5" fill="none" filter="url(#blur2)"/>
</g>
<ellipse cx="698" cy="596" rx="17" ry="18" fill="#f6f5f1"/>
<path d="M660,616 L662,662 Q704,678 748,666 L748,622 Q704,606 660,616 Z" fill="#82978a"/>
<path d="M665.5,600 L665.5,680 M672.5,600 L672.5,680 M679.5,600 L679.5,680 M686.5,600 L686.5,680 M693.5,600 L693.5,680 M700.5,600 L700.5,680 M707.5,600 L707.5,680 M714.5,600 L714.5,680 M721.5,600 L721.5,680 M728.5,600 L728.5,680 M735.5,600 L735.5,680 M742.5,600 L742.5,680" stroke="#a3b6a7" stroke-width="2.6" opacity="0.6" fill="none" clip-path="url(#cp1)"/>
<path d="M660,616 Q704,606 748,622" stroke="#9fb3a3" stroke-width="3" fill="none" opacity="0.6"/>
<g mask="url(#m19)">
<circle cx="664" cy="526" r="60.2" fill="#dfc1ab"/>
<ellipse cx="705.8" cy="534.5" rx="27.3" ry="22.4" transform="rotate(11.5 705.8 534.5)" fill="url(#g47)"/>
<ellipse cx="687.6" cy="561.6" rx="27.3" ry="22.4" transform="rotate(56.5 687.6 561.6)" fill="url(#g48)"/>
<ellipse cx="655.5" cy="567.8" rx="27.3" ry="22.4" transform="rotate(101.5 655.5 567.8)" fill="url(#g49)"/>
<ellipse cx="628.4" cy="549.6" rx="27.3" ry="22.4" transform="rotate(146.5 628.4 549.6)" fill="url(#g50)"/>
<ellipse cx="622.2" cy="517.5" rx="27.3" ry="22.4" transform="rotate(191.5 622.2 517.5)" fill="url(#g51)"/>
<ellipse cx="640.4" cy="490.4" rx="27.3" ry="22.4" transform="rotate(236.5 640.4 490.4)" fill="url(#g52)"/>
<ellipse cx="672.5" cy="484.2" rx="27.3" ry="22.4" transform="rotate(281.5 672.5 484.2)" fill="url(#g53)"/>
<ellipse cx="699.6" cy="502.4" rx="27.3" ry="22.4" transform="rotate(326.5 699.6 502.4)" fill="url(#g54)"/>
<path d="M673.6,531.2 L713.9,559.6 M660.8,539.6 L675.5,585.1 M645.8,536.6 L630.4,575.9 M637.4,523.8 L604.9,537.5 M640.4,508.8 L614.1,492.4 M653.2,500.4 L652.5,466.9 M668.2,503.4 L697.6,476.1 M676.6,516.2 L723.1,514.5" stroke="#c8a38d" stroke-width="3" opacity="0.5" fill="none" filter="url(#blur2)"/>
</g>
<path d="M452,453 C520,463 580,480 615,497 C640,508 660,515 670,526" fill="none" stroke="#d8cbb2" stroke-width="8.5" stroke-linecap="round"/>
<path d="M452,453 C520,463 580,480 615,497 C640,508 660,515 670,526" fill="none" stroke="#e7dcc8" stroke-width="6.5" stroke-linecap="round"/>
<path d="M690,580 L702,614" stroke="#dccdb2" stroke-width="5" stroke-linecap="round"/>
<path d="M641,720 C636,700 640,684 652,676 C660,668 672,668 681,670 C688,658 710,654 726,660 C734,664 738,668 740,668 C752,664 766,672 770,688 C772,700 768,712 762,716 L700,700 Z" fill="#d9b95a"/>
<path d="M645,718 C642,702 646,690 656,684 C664,678 674,678 683,680 C690,670 710,666 724,672 C732,676 736,678 740,678 C750,676 762,684 765,698" fill="none" stroke="#8d6a4a" stroke-width="2" opacity="0.5"/>
<ellipse cx="713" cy="722" rx="64" ry="34" fill="#b47d69"/>
<ellipse cx="710" cy="727" rx="18" ry="8" fill="#7a5142"/>
<circle cx="664" cy="738" r="25" fill="url(#g55)"/>
<circle cx="762" cy="736" r="25" fill="url(#g56)"/>
<circle cx="668" cy="704" r="26" fill="url(#g57)"/>
<circle cx="757" cy="702" r="27" fill="url(#g58)"/>
<circle cx="711" cy="693" r="28" fill="url(#g59)"/>
<path d="M708,722 L707,752" stroke="#dccdb2" stroke-width="5" stroke-linecap="round"/>
<ellipse cx="704" cy="768" rx="43" ry="20" fill="#9f7c7b"/>
<path d="M639,788 C636,776 648,766 664,766 C672,756 700,752 716,760 C724,752 748,758 752,770 C764,772 772,782 766,796 C760,806 740,808 706,806 C672,804 642,800 639,788 Z" fill="#c9a547"/>
<path d="M640,783 C638,772 650,764 664,764 C672,754 700,750 716,758 C724,750 748,756 752,766 C764,768 770,776 766,786 C740,792 668,794 640,783 Z" fill="#dcbd60"/>
<path d="M653,790 Q697,780 740,792 L740,846 Q700,858 655,842 Z" fill="#8595a2"/>
<path d="M658.5,770 L658.5,870 M665.5,770 L665.5,870 M672.5,770 L672.5,870 M679.5,770 L679.5,870 M686.5,770 L686.5,870 M693.5,770 L693.5,870 M700.5,770 L700.5,870 M707.5,770 L707.5,870 M714.5,770 L714.5,870 M721.5,770 L721.5,870 M728.5,770 L728.5,870 M735.5,770 L735.5,870" stroke="#a6b5c0" stroke-width="2.6" opacity="0.6" fill="none" clip-path="url(#cp2)"/>
<path d="M653,790 Q697,780 740,792" stroke="#9fb0bb" stroke-width="3" fill="none"/>
<path d="M626,884 C626,852 656,836 690,838 C724,836 754,852 757,884 C758,906 732,914 690,914 C650,914 626,906 626,884 Z" fill="#a17a74"/>
<path d="M636,881.3 C637.9,881.4 641.7,886 645.5,881.8 C649.3,877.7 651.2,863.8 655,860.6 C658.8,857.3 660.7,867.8 664.5,865.4 C668.3,863 670.2,850 674,848.5 C677.8,846.9 679.7,858.4 683.5,857.7 C687.3,857 689.2,844.9 693,845 C696.8,845.2 698.7,857.5 702.5,858.6 C706.3,859.6 708.2,848.4 712,850.3 C715.8,852.2 717.7,865.4 721.5,868.2 C725.3,870.9 727.2,860.6 731,864.2 C734.8,867.8 736.7,881.9 740.5,886.4 C744.3,890.9 748.1,886.7 750,886.8" stroke="#bf958f" stroke-width="4.5" fill="none" stroke-linejoin="round" stroke-linecap="round"/>
<path d="M636,895.3 C637.9,895.4 641.7,900 645.5,895.8 C649.3,891.7 651.2,877.8 655,874.6 C658.8,871.3 660.7,881.8 664.5,879.4 C668.3,877 670.2,864 674,862.5 C677.8,860.9 679.7,872.4 683.5,871.7 C687.3,871 689.2,858.9 693,859 C696.8,859.2 698.7,871.5 702.5,872.6 C706.3,873.6 708.2,862.4 712,864.3 C715.8,866.2 717.7,879.4 721.5,882.2 C725.3,884.9 727.2,874.6 731,878.2 C734.8,881.8 736.7,895.9 740.5,900.4 C744.3,904.9 748.1,900.7 750,900.8" stroke="#8f6a64" stroke-width="3" fill="none" opacity="0.6" stroke-linejoin="round"/>
<ellipse cx="681" cy="870" rx="6" ry="4" fill="#f6f5f1"/>
<ellipse cx="701" cy="871" rx="6" ry="4" fill="#f6f5f1"/>
<ellipse cx="680" cy="922" rx="67" ry="50" fill="#b9a2b6"/>
<ellipse cx="712.3" cy="940.3" rx="29.2" ry="9" transform="rotate(5.7 712.3 940.3)" fill="url(#g60)"/>
<ellipse cx="703.7" cy="948.9" rx="23.9" ry="9" transform="rotate(25.7 703.7 948.9)" fill="url(#g61)"/>
<ellipse cx="694.8" cy="953.2" rx="19.8" ry="8.2" transform="rotate(45.7 694.8 953.2)" fill="url(#g62)"/>
<ellipse cx="687.2" cy="955.1" rx="17.3" ry="7.2" transform="rotate(65.7 687.2 955.1)" fill="url(#g63)"/>
<ellipse cx="680.4" cy="955.7" rx="16.4" ry="6.8" transform="rotate(85.7 680.4 955.7)" fill="url(#g64)"/>
<ellipse cx="673.8" cy="955.4" rx="16.6" ry="6.9" transform="rotate(105.7 673.8 955.4)" fill="url(#g65)"/>
<ellipse cx="666.8" cy="954" rx="18.3" ry="7.6" transform="rotate(125.7 666.8 954)" fill="url(#g66)"/>
<ellipse cx="658.7" cy="950.8" rx="21.4" ry="8.9" transform="rotate(145.7 658.7 950.8)" fill="url(#g67)"/>
<ellipse cx="650" cy="944.4" rx="26.1" ry="9" transform="rotate(165.7 650 944.4)" fill="url(#g68)"/>
<ellipse cx="643.8" cy="933.5" rx="30.9" ry="9" transform="rotate(185.7 643.8 933.5)" fill="url(#g69)"/>
<ellipse cx="645" cy="920.6" rx="33" ry="9" transform="rotate(205.7 645 920.6)" fill="url(#g70)"/>
<ellipse cx="653" cy="910.4" rx="32.5" ry="9" transform="rotate(225.7 653 910.4)" fill="url(#g71)"/>
<ellipse cx="664.3" cy="904.3" rx="31.3" ry="9" transform="rotate(245.7 664.3 904.3)" fill="url(#g72)"/>
<ellipse cx="676.4" cy="901.9" rx="30.7" ry="9" transform="rotate(265.7 676.4 901.9)" fill="url(#g73)"/>
<ellipse cx="688.7" cy="902.7" rx="31.1" ry="9" transform="rotate(285.7 688.7 902.7)" fill="url(#g74)"/>
<ellipse cx="700.7" cy="906.8" rx="32.4" ry="9" transform="rotate(305.7 700.7 906.8)" fill="url(#g75)"/>
<ellipse cx="711" cy="915.2" rx="33.7" ry="9" transform="rotate(325.7 711 915.2)" fill="url(#g76)"/>
<ellipse cx="715.8" cy="927.6" rx="33.2" ry="9" transform="rotate(345.7 715.8 927.6)" fill="url(#g77)"/>
<path d="M666,938 Q679,929 692,938 Q679,944 666,938 Z" fill="#f6f5f1"/>
<path d="M678,933 C676,960 680,990 686,1008" stroke="#dccdb2" stroke-width="5" fill="none" stroke-linecap="round"/>
<ellipse cx="716" cy="1043" rx="38" ry="35" fill="#cbbccf"/>
<ellipse cx="724" cy="1040" rx="15" ry="18" fill="#f6f5f1"/>
<path d="M657,977 L750,955 L750,1004 Q735,1024 690,1027 L660,1018 Z" fill="#a6bfa9"/>
<path d="M663.5,940 L663.5,1040 M670.5,940 L670.5,1040 M677.5,940 L677.5,1040 M684.5,940 L684.5,1040 M691.5,940 L691.5,1040 M698.5,940 L698.5,1040 M705.5,940 L705.5,1040 M712.5,940 L712.5,1040 M719.5,940 L719.5,1040 M726.5,940 L726.5,1040 M733.5,940 L733.5,1040 M740.5,940 L740.5,1040 M747.5,940 L747.5,1040" stroke="#c0d3c2" stroke-width="2.6" opacity="0.6" fill="none" clip-path="url(#cp3)"/>
<path d="M660,978 Q700,990 748,957" stroke="#6f7f6a" stroke-width="6" fill="none" opacity="0.55"/>
<ellipse cx="752" cy="1058" rx="37" ry="42" transform="rotate(-25 752 1058)" fill="url(#g78)"/>
<ellipse cx="757" cy="1056" rx="16" ry="22" transform="rotate(-25 757 1056)" fill="#f6f5f1"/>
<path d="M756,1050 L800,1068" stroke="#dccdb4" stroke-width="6" stroke-linecap="round"/>
<path d="M849.6,1095 a30.4,30.4 0 1,0 60.8,0 a30.4,30.4 0 1,0 -60.8,0Z M867,1064.9 a24,24 0 1,0 48,0 a24,24 0 1,0 -48,0Z M888,1096.1 a24,24 0 1,0 48,0 a24,24 0 1,0 -48,0Z M864.8,1125.8 a24,24 0 1,0 48,0 a24,24 0 1,0 -48,0Z M829.5,1112.9 a24,24 0 1,0 48,0 a24,24 0 1,0 -48,0Z M830.8,1075.3 a24,24 0 1,0 48,0 a24,24 0 1,0 -48,0Z" fill="#b67d6b"/>
<path d="M854.6,1090 a30.4,30.4 0 1,0 60.8,0 a30.4,30.4 0 1,0 -60.8,0Z M872,1059.9 a24,24 0 1,0 48,0 a24,24 0 1,0 -48,0Z M893,1091.1 a24,24 0 1,0 48,0 a24,24 0 1,0 -48,0Z M869.8,1120.8 a24,24 0 1,0 48,0 a24,24 0 1,0 -48,0Z M834.5,1107.9 a24,24 0 1,0 48,0 a24,24 0 1,0 -48,0Z M835.8,1070.3 a24,24 0 1,0 48,0 a24,24 0 1,0 -48,0Z" fill="#daa18f"/>
<ellipse cx="880" cy="1097" rx="13" ry="14" fill="#f6f5f1"/>
<ellipse cx="821" cy="1080" rx="67" ry="37" transform="rotate(-58 821 1080)" fill="#c3dbd0"/>
<ellipse cx="814" cy="1074" rx="66" ry="33" transform="rotate(-58 814 1074)" fill="#7b8a79"/>
<ellipse cx="808" cy="1068" rx="42" ry="20" transform="rotate(-58 808 1068)" fill="#6f7d6d" filter="url(#blur2)"/>
<path d="M800,1068 L862,1088 L940,1138" stroke="#dccdb4" stroke-width="6" stroke-linecap="round" fill="none"/>
<path d="M914.6,1141 a31.3,31.3 0 1,0 62.7,0 a31.3,31.3 0 1,0 -62.7,0Z M925.9,1108.4 a25,25 0 1,0 50,0 a25,25 0 1,0 -50,0Z M953.6,1135.6 a25,25 0 1,0 50,0 a25,25 0 1,0 -50,0Z M936.2,1170.3 a25,25 0 1,0 50,0 a25,25 0 1,0 -50,0Z M897.8,1164.5 a25,25 0 1,0 50,0 a25,25 0 1,0 -50,0Z M891.5,1126.2 a25,25 0 1,0 50,0 a25,25 0 1,0 -50,0Z" fill="#c9a196"/>
<path d="M908.6,1147 a31.3,31.3 0 1,0 62.7,0 a31.3,31.3 0 1,0 -62.7,0Z M919.9,1114.4 a25,25 0 1,0 50,0 a25,25 0 1,0 -50,0Z M947.6,1141.6 a25,25 0 1,0 50,0 a25,25 0 1,0 -50,0Z M930.2,1176.3 a25,25 0 1,0 50,0 a25,25 0 1,0 -50,0Z M891.8,1170.5 a25,25 0 1,0 50,0 a25,25 0 1,0 -50,0Z M885.5,1132.2 a25,25 0 1,0 50,0 a25,25 0 1,0 -50,0Z" fill="#e9cdc2"/>
<ellipse cx="944" cy="1146" rx="15" ry="12" fill="#f6f5f1"/>
<path d="M943.8,1141.4 C947.4,1147.8 960.2,1165.2 965.2,1179.5 C970.2,1193.8 972.4,1209.1 973.6,1227 C974.8,1244.9 974.2,1264.9 972.4,1286.7 C970.6,1308.5 967.3,1337.4 962.9,1358 C958.5,1378.6 949,1401.8 946.2,1410.5" fill="none" stroke="#d3c6ae" stroke-width="6.2" stroke-linecap="round" stroke-linejoin="round"/>
<path d="M943.8,1141.4 C947.4,1147.8 960.2,1165.2 965.2,1179.5 C970.2,1193.8 972.4,1209.1 973.6,1227 C974.8,1244.9 974.2,1264.9 972.4,1286.7 C970.6,1308.5 967.3,1337.4 962.9,1358 C958.5,1378.6 949,1401.8 946.2,1410.5" fill="none" stroke="#e6dcc9" stroke-width="5" stroke-linecap="round" stroke-linejoin="round"/>
<g fill="none" stroke="#4a4b4f" stroke-width="8.5" stroke-linecap="round" stroke-linejoin="round">
<use href="#gl66" x="169" y="177"/>
<use href="#gl80" x="237" y="177"/>
<use href="#gl65" x="288.5" y="177"/>
<use href="#gl44" x="350.6" y="177"/>
<use href="#gl66" x="387" y="177"/>
<use href="#gl80" x="455.5" y="177"/>
<use href="#gl83" x="508.4" y="177"/>
<use href="#gl44" x="586" y="177"/>
<use href="#gl80" x="82" y="274"/>
<use href="#gl86" x="138" y="274"/>
<use href="#gl67" x="187.7" y="274"/>
<use href="#gl44" x="250" y="274"/>
<use href="#gl80" x="286" y="274"/>
<use href="#gl104" x="349.5" y="274"/>
<use href="#gl116" x="396.8" y="274"/>
<use href="#gl104" x="436.4" y="274"/>
<use href="#gl97" x="482.9" y="274"/>
<use href="#gl108" x="538" y="274"/>
<use href="#gl97" x="559.5" y="274"/>
<use href="#gl116" x="605" y="274"/>
<use href="#gl101" x="642.3" y="274"/>
<use href="#gl102" x="301" y="370.7"/>
<use href="#gl114" x="341" y="370.7"/>
<use href="#gl101" x="377.3" y="370.7"/>
<use href="#gl101" x="422.9" y="370.7"/>
<use href="#gl76" x="1321" y="232.8"/>
<use href="#gl105" x="1374" y="232.8"/>
<use href="#gl103" x="1393.5" y="232.8"/>
<use href="#gl104" x="1434.7" y="232.8"/>
<use href="#gl116" x="1483.7" y="232.8"/>
<use href="#gl119" x="1525" y="232.8"/>
<use href="#gl101" x="1589.9" y="232.8"/>
<use href="#gl105" x="1636.5" y="232.8"/>
<use href="#gl103" x="1653" y="232.8"/>
<use href="#gl104" x="1698.6" y="232.8"/>
<use href="#gl116" x="1746.4" y="232.8"/>
<use href="#gl102" x="1235.5" y="329.5"/>
<use href="#gl111" x="1266.6" y="329.5"/>
<use href="#gl114" x="1310.4" y="329.5"/>
<use href="#gl108" x="1385" y="329.5"/>
<use href="#gl105" x="1407.7" y="329.5"/>
<use href="#gl116" x="1430" y="329.5"/>
<use href="#gl116" x="1469.5" y="329.5"/>
<use href="#gl108" x="1510.3" y="329.5"/>
<use href="#gl101" x="1531.6" y="329.5"/>
<use href="#gl104" x="1619" y="329.5"/>
<use href="#gl97" x="1665.4" y="329.5"/>
<use href="#gl110" x="1723" y="329.5"/>
<use href="#gl100" x="1778.8" y="329.5"/>
<use href="#gl115" x="1831.6" y="329.5"/>
<use href="#gl73" x="122" y="1649"/>
<use href="#gl110" x="169.7" y="1649"/>
<use href="#gl99" x="227.3" y="1649"/>
<use href="#gl108" x="270.2" y="1649"/>
<use href="#gl117" x="292" y="1649"/>
<use href="#gl100" x="338" y="1649"/>
<use href="#gl101" x="390.9" y="1649"/>
<use href="#gl115" x="437.5" y="1649"/>
<use href="#gl97" x="517.6" y="1649"/>
<use href="#gl115" x="612" y="1649"/>
<use href="#gl116" x="654.3" y="1649"/>
<use href="#gl111" x="690.7" y="1649"/>
<use href="#gl114" x="734.7" y="1649"/>
<use href="#gl97" x="769.3" y="1649"/>
<use href="#gl103" x="816" y="1649"/>
<use href="#gl101" x="860.4" y="1649"/>
<use href="#gl99" x="92.5" y="1745.5"/>
<use href="#gl111" x="134.7" y="1745.5"/>
<use href="#gl110" x="181" y="1745.5"/>
<use href="#gl116" x="238.3" y="1745.5"/>
<use href="#gl97" x="274.8" y="1745.5"/>
<use href="#gl105" x="331.3" y="1745.5"/>
<use href="#gl110" x="353" y="1745.5"/>
<use href="#gl101" x="410.3" y="1745.5"/>
<use href="#gl114" x="457.7" y="1745.5"/>
<use href="#gl44" x="493" y="1745.5"/>
<use href="#gl53" x="547.2" y="1745.5"/>
<use href="#gl52" x="590" y="1745.5"/>
<use href="#gl98" x="675" y="1745.5"/>
<use href="#gl101" x="724.3" y="1745.5"/>
<use href="#gl97" x="772.2" y="1745.5"/>
<use href="#gl100" x="826.5" y="1745.5"/>
<use href="#gl115" x="879.8" y="1745.5"/>
<use href="#gl44" x="919" y="1745.5"/>
<use href="#gl97" x="230.2" y="1843.5"/>
<use href="#gl110" x="287" y="1843.5"/>
<use href="#gl100" x="345.1" y="1843.5"/>
<use href="#gl52" x="434.5" y="1843.5"/>
<use href="#gl115" x="520.6" y="1843.5"/>
<use href="#gl116" x="561" y="1843.5"/>
<use href="#gl114" x="599" y="1843.5"/>
<use href="#gl105" x="636.2" y="1843.5"/>
<use href="#gl110" x="659.6" y="1843.5"/>
<use href="#gl103" x="715" y="1843.5"/>
<use href="#gl115" x="758.1" y="1843.5"/>
<use href="#gl49" x="1236.5" y="1693.3"/>
<use href="#gl48" x="1250.8" y="1693.3"/>
<use href="#gl48" x="1305.4" y="1693.3"/>
<use href="#gl37" x="1361" y="1693.3"/>
<use href="#gl110" x="1460" y="1693.3"/>
<use href="#gl111" x="1513" y="1693.3"/>
<use href="#gl110" x="1558.6" y="1693.3"/>
<use href="#gl45" x="1621" y="1693.3"/>
<use href="#gl116" x="1675.1" y="1693.3"/>
<use href="#gl111" x="1712.4" y="1693.3"/>
<use href="#gl120" x="1757.1" y="1693.3"/>
<use href="#gl105" x="1796.2" y="1693.3"/>
<use href="#gl99" x="1814" y="1693.3"/>
<use href="#gl80" x="1343.4" y="1790"/>
<use href="#gl80" x="1395.7" y="1790"/>
<use href="#gl112" x="1489" y="1790"/>
<use href="#gl108" x="1533.2" y="1790"/>
<use href="#gl97" x="1554.8" y="1790"/>
<use href="#gl115" x="1609.3" y="1790"/>
<use href="#gl116" x="1650.5" y="1790"/>
<use href="#gl105" x="1691.2" y="1790"/>
<use href="#gl99" x="1708.4" y="1790"/>
</g>
<g fill="none" stroke="#4a4b4f" stroke-width="6.8" stroke-linecap="round" stroke-linejoin="round">
<path d="M306.5,418 C306,482 327,527 419,566 M405,551 L419,566 L392,566"/>
<path d="M1690,376 C1690,440 1660,490 1575,529 M1590.5,507 L1575,529 L1602,529"/>
<path d="M420,1528 C445,1537 490,1530 510,1508 C525,1490 510,1475 496,1460 C478,1440 470,1420 480,1400 C490,1380 510,1360 538,1338 M504,1345 L538,1338 L531,1365"/>
<path d="M1437,1406 C1470,1425 1510,1443 1530,1456 C1548,1470 1556,1482 1552,1486 C1540,1480 1512,1482 1508,1494 C1506,1508 1532,1510 1546,1500 C1556,1492 1554,1488 1562,1491 C1600,1506 1614,1545 1617,1577 M1464,1402 L1437,1406 L1444,1421"/>
</g>
</svg>
</body></html>
